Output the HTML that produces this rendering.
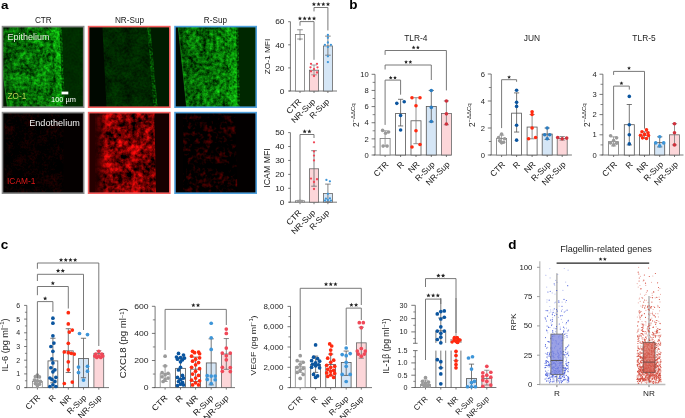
<!DOCTYPE html>
<html><head><meta charset="utf-8"><style>
html,body{margin:0;padding:0;background:#fff;width:685px;height:418px;overflow:hidden}
svg{display:block;font-family:"Liberation Sans", sans-serif}
</style></head><body>
<svg width="685" height="418" viewBox="0 0 685 418" font-family='"Liberation Sans", sans-serif'>
<rect width="685" height="418" fill="#fff"/>
<defs>
<filter id="g1" x="0" y="0" width="1" height="1" color-interpolation-filters="sRGB"><feTurbulence type="fractalNoise" baseFrequency="0.3" numOctaves="3" seed="3" result="t1"/><feColorMatrix in="t1" type="matrix" values="1 0 0 0 0  1 0 0 0 0  1 0 0 0 0  0 0 0 0 1" result="a"/><feTurbulence type="fractalNoise" baseFrequency="0.08" numOctaves="2" seed="53" result="t2"/><feColorMatrix in="t2" type="matrix" values="1 0 0 0 0  1 0 0 0 0  1 0 0 0 0  0 0 0 0 1" result="b"/><feComposite in="a" in2="b" operator="arithmetic" k1="0" k2="0.6" k3="0.4" k4="0" result="c"/><feColorMatrix in="c" type="matrix" values="0.186 0 0 0 -0.066  1.55 0 0 0 -0.3  0.186 0 0 0 -0.066  0 0 0 0 1"/></filter>
<filter id="g1d" x="0" y="0" width="1" height="1" color-interpolation-filters="sRGB"><feTurbulence type="fractalNoise" baseFrequency="0.5" numOctaves="2" seed="5" result="t1"/><feColorMatrix in="t1" type="matrix" values="1 0 0 0 0  1 0 0 0 0  1 0 0 0 0  0 0 0 0 1" result="a"/><feTurbulence type="fractalNoise" baseFrequency="0.1" numOctaves="2" seed="55" result="t2"/><feColorMatrix in="t2" type="matrix" values="1 0 0 0 0  1 0 0 0 0  1 0 0 0 0  0 0 0 0 1" result="b"/><feComposite in="a" in2="b" operator="arithmetic" k1="0" k2="0.5" k3="0.5" k4="0" result="c"/><feColorMatrix in="c" type="matrix" values="0.0192 0 0 0 -0.019200000000000002  0.16 0 0 0 0.09  0.0192 0 0 0 -0.019200000000000002  0 0 0 0 1"/></filter>
<filter id="g2" x="0" y="0" width="1" height="1" color-interpolation-filters="sRGB"><feTurbulence type="fractalNoise" baseFrequency="0.4" numOctaves="2" seed="7" result="t1"/><feColorMatrix in="t1" type="matrix" values="1 0 0 0 0  1 0 0 0 0  1 0 0 0 0  0 0 0 0 1" result="a"/><feTurbulence type="fractalNoise" baseFrequency="0.09" numOctaves="2" seed="57" result="t2"/><feColorMatrix in="t2" type="matrix" values="1 0 0 0 0  1 0 0 0 0  1 0 0 0 0  0 0 0 0 1" result="b"/><feComposite in="a" in2="b" operator="arithmetic" k1="0" k2="0.5" k3="0.5" k4="0" result="c"/><feColorMatrix in="c" type="matrix" values="0.043199999999999995 0 0 0 -0.033  0.36 0 0 0 -0.025  0.043199999999999995 0 0 0 -0.033  0 0 0 0 1"/></filter>
<filter id="g3" x="0" y="0" width="1" height="1" color-interpolation-filters="sRGB"><feTurbulence type="fractalNoise" baseFrequency="0.3" numOctaves="3" seed="11" result="t1"/><feColorMatrix in="t1" type="matrix" values="1 0 0 0 0  1 0 0 0 0  1 0 0 0 0  0 0 0 0 1" result="a"/><feTurbulence type="fractalNoise" baseFrequency="0.08" numOctaves="2" seed="61" result="t2"/><feColorMatrix in="t2" type="matrix" values="1 0 0 0 0  1 0 0 0 0  1 0 0 0 0  0 0 0 0 1" result="b"/><feComposite in="a" in2="b" operator="arithmetic" k1="0" k2="0.6" k3="0.4" k4="0" result="c"/><feColorMatrix in="c" type="matrix" values="0.186 0 0 0 -0.06839999999999999  1.55 0 0 0 -0.32  0.186 0 0 0 -0.06839999999999999  0 0 0 0 1"/></filter>
<filter id="gf" x="0" y="0" width="1" height="1" color-interpolation-filters="sRGB"><feTurbulence type="fractalNoise" baseFrequency="0.35" numOctaves="3" seed="23" result="t1"/><feColorMatrix in="t1" type="matrix" values="1 0 0 0 0  1 0 0 0 0  1 0 0 0 0  0 0 0 0 1" result="a"/><feTurbulence type="fractalNoise" baseFrequency="0.15" numOctaves="2" seed="73" result="t2"/><feColorMatrix in="t2" type="matrix" values="1 0 0 0 0  1 0 0 0 0  1 0 0 0 0  0 0 0 0 1" result="b"/><feComposite in="a" in2="b" operator="arithmetic" k1="0" k2="0.6" k3="0.4" k4="0" result="c"/><feColorMatrix in="c" type="matrix" values="0.22799999999999998 0 0 0 -0.072  1.9 0 0 0 -0.35  0.22799999999999998 0 0 0 -0.072  0 0 0 0 1"/></filter>
<filter id="gs" x="0" y="0" width="1" height="1" color-interpolation-filters="sRGB"><feTurbulence type="fractalNoise" baseFrequency="0.5" numOctaves="2" seed="29" result="t1"/><feColorMatrix in="t1" type="matrix" values="1 0 0 0 0  1 0 0 0 0  1 0 0 0 0  0 0 0 0 1" result="a"/><feTurbulence type="fractalNoise" baseFrequency="0.2" numOctaves="2" seed="79" result="t2"/><feColorMatrix in="t2" type="matrix" values="1 0 0 0 0  1 0 0 0 0  1 0 0 0 0  0 0 0 0 1" result="b"/><feComposite in="a" in2="b" operator="arithmetic" k1="0" k2="0.7" k3="0.3" k4="0" result="c"/><feColorMatrix in="c" type="matrix" values="0.384 0 0 0 -0.18  3.2 0 0 0 -1.25  0.384 0 0 0 -0.18  0 0 0 0 1"/></filter>
<filter id="r2" x="0" y="0" width="1" height="1" color-interpolation-filters="sRGB"><feTurbulence type="fractalNoise" baseFrequency="0.22" numOctaves="3" seed="13" result="t1"/><feColorMatrix in="t1" type="matrix" values="1 0 0 0 0  1 0 0 0 0  1 0 0 0 0  0 0 0 0 1" result="a"/><feTurbulence type="fractalNoise" baseFrequency="0.07" numOctaves="2" seed="63" result="t2"/><feColorMatrix in="t2" type="matrix" values="1 0 0 0 0  1 0 0 0 0  1 0 0 0 0  0 0 0 0 1" result="b"/><feComposite in="a" in2="b" operator="arithmetic" k1="0" k2="0.6" k3="0.4" k4="0" result="c"/><feColorMatrix in="c" type="matrix" values="2.3 0 0 0 -0.7  0.13799999999999998 0 0 0 -0.062  0.13799999999999998 0 0 0 -0.062  0 0 0 0 1"/></filter>
<filter id="r3" x="0" y="0" width="1" height="1" color-interpolation-filters="sRGB"><feTurbulence type="fractalNoise" baseFrequency="0.25" numOctaves="3" seed="17" result="t1"/><feColorMatrix in="t1" type="matrix" values="1 0 0 0 0  1 0 0 0 0  1 0 0 0 0  0 0 0 0 1" result="a"/><feTurbulence type="fractalNoise" baseFrequency="0.08" numOctaves="2" seed="67" result="t2"/><feColorMatrix in="t2" type="matrix" values="1 0 0 0 0  1 0 0 0 0  1 0 0 0 0  0 0 0 0 1" result="b"/><feComposite in="a" in2="b" operator="arithmetic" k1="0" k2="0.6" k3="0.4" k4="0" result="c"/><feColorMatrix in="c" type="matrix" values="1.25 0 0 0 -0.61  0.075 0 0 0 -0.0566  0.075 0 0 0 -0.0566  0 0 0 0 1"/></filter>
<filter id="r1" x="0" y="0" width="1" height="1" color-interpolation-filters="sRGB"><feTurbulence type="fractalNoise" baseFrequency="0.45" numOctaves="2" seed="19" result="t1"/><feColorMatrix in="t1" type="matrix" values="1 0 0 0 0  1 0 0 0 0  1 0 0 0 0  0 0 0 0 1" result="a"/><feTurbulence type="fractalNoise" baseFrequency="0.08" numOctaves="2" seed="69" result="t2"/><feColorMatrix in="t2" type="matrix" values="1 0 0 0 0  1 0 0 0 0  1 0 0 0 0  0 0 0 0 1" result="b"/><feComposite in="a" in2="b" operator="arithmetic" k1="0" k2="0.5" k3="0.5" k4="0" result="c"/><feColorMatrix in="c" type="matrix" values="0.7 0 0 0 -0.33  0.041999999999999996 0 0 0 -0.0398  0.041999999999999996 0 0 0 -0.0398  0 0 0 0 1"/></filter>
<linearGradient id="shadeL" x1="0" y1="0" x2="1" y2="0"><stop offset="0" stop-color="#000" stop-opacity="0.22"/><stop offset="0.6" stop-color="#000" stop-opacity="0.06"/><stop offset="1" stop-color="#000" stop-opacity="0"/></linearGradient>
<linearGradient id="redL" x1="0" y1="0" x2="1" y2="0"><stop offset="0" stop-color="#260000" stop-opacity="1"/><stop offset="1" stop-color="#260000" stop-opacity="0"/></linearGradient>
</defs>
<rect x="2.50" y="26.60" width="81.20" height="80.60" fill="#001a00" stroke="none" stroke-width="0.8"/>
<clipPath id="c16"><polygon points="57.7,26.6 83.7,26.6 83.7,107.2 62.6,107.2"/></clipPath>
<rect x="57.7" y="26.6" width="26.0" height="80.6" filter="url(#g1d)" clip-path="url(#c16)" opacity="1.0"/>
<clipPath id="c18"><polygon points="2.5,26.6 59.3,26.6 61.0,66.9 62.6,107.2 7.5,107.2 2.5,70.9"/></clipPath>
<rect x="2.5" y="26.6" width="60.1" height="80.6" filter="url(#g1)" clip-path="url(#c18)" opacity="1.0"/>
<clipPath id="c20"><polygon points="54.5,26.6 59.3,26.6 61.0,66.9 62.6,107.2 57.7,107.2 56.1,66.9"/></clipPath>
<rect x="54.5" y="26.6" width="8.1" height="80.6" filter="url(#gf)" clip-path="url(#c20)" opacity="0.5"/>
<clipPath id="c22"><polygon points="52.8,26.6 61.8,26.6 63.4,66.9 65.0,107.2 56.1,107.2 54.5,66.9"/></clipPath>
<rect x="52.8" y="26.6" width="12.2" height="80.6" filter="url(#gs)" clip-path="url(#c22)" opacity="0.45" style="mix-blend-mode:screen"/>
<polygon points="2.5,26.6 59.3,26.6 61.0,66.9 62.6,107.2 7.5,107.2 2.5,70.9" fill="url(#shadeL)" />
<line x1="2.8" y1="70.9" x2="7.5" y2="107.2" stroke="#20a020" stroke-width="1.0" opacity="0.6"/>
<rect x="88.60" y="26.60" width="81.20" height="80.60" fill="#000800" stroke="none" stroke-width="0.8"/>
<polygon points="149.5,26.6 169.8,26.6 169.8,107.2 156.8,107.2" fill="#001c00" />
<clipPath id="c28"><polygon points="102.4,26.6 150.3,26.6 157.6,107.2 106.5,107.2"/></clipPath>
<rect x="102.4" y="26.6" width="55.2" height="80.6" filter="url(#g2)" clip-path="url(#c28)" opacity="1.0"/>
<clipPath id="c30"><polygon points="147.1,26.6 150.3,26.6 157.6,107.2 153.6,107.2"/></clipPath>
<rect x="147.1" y="26.6" width="10.6" height="80.6" filter="url(#gs)" clip-path="url(#c30)" opacity="0.4" style="mix-blend-mode:screen"/>
<rect x="175.00" y="26.60" width="81.20" height="80.60" fill="#000a00" stroke="none" stroke-width="0.8"/>
<polygon points="235.1,26.6 256.2,26.6 256.2,107.2 237.5,107.2" fill="#002700" />
<clipPath id="c34"><polygon points="178.0,26.6 235.9,26.6 237.5,107.2 186.4,107.2"/></clipPath>
<rect x="178.0" y="26.6" width="59.5" height="80.6" filter="url(#g3)" clip-path="url(#c34)" opacity="1.0"/>
<clipPath id="c36"><polygon points="230.2,26.6 235.9,26.6 237.5,107.2 231.8,107.2"/></clipPath>
<rect x="230.2" y="26.6" width="7.3" height="80.6" filter="url(#gf)" clip-path="url(#c36)" opacity="0.5"/>
<clipPath id="c38"><polygon points="227.0,26.6 238.3,26.6 240.0,107.2 228.6,107.2"/></clipPath>
<rect x="227.0" y="26.6" width="13.0" height="80.6" filter="url(#gs)" clip-path="url(#c38)" opacity="0.45" style="mix-blend-mode:screen"/>
<polygon points="178.0,26.6 235.9,26.6 237.5,107.2 186.4,107.2" fill="url(#shadeL)" />
<line x1="178.2" y1="26.6" x2="186.6" y2="107.2" stroke="#20a020" stroke-width="1.0" opacity="0.35"/>
<rect x="2.50" y="112.60" width="81.20" height="80.60" fill="#040000" stroke="none" stroke-width="0.8"/>
<clipPath id="c43"><polygon points="4.5,112.6 63.4,112.6 63.4,193.2 4.5,193.2"/></clipPath>
<rect x="4.5" y="112.6" width="58.9" height="80.6" filter="url(#r1)" clip-path="url(#c43)" opacity="0.8"/>
<rect x="88.60" y="112.60" width="81.20" height="80.60" fill="#260000" stroke="none" stroke-width="0.8"/>
<polygon points="151.9,112.6 169.8,112.6 169.8,193.2 153.6,193.2" fill="#160000" />
<clipPath id="c47"><polygon points="95.1,112.6 154.4,112.6 156.0,193.2 95.1,193.2"/></clipPath>
<rect x="95.1" y="112.6" width="60.9" height="80.6" filter="url(#r2)" clip-path="url(#c47)" opacity="1.0"/>
<rect x="95.10" y="112.60" width="11.37" height="80.60" fill="url(#redL)" stroke="none" stroke-width="0.8"/>
<rect x="175.00" y="112.60" width="81.20" height="80.60" fill="#030000" stroke="none" stroke-width="0.8"/>
<clipPath id="c51"><polygon points="183.1,112.6 235.1,112.6 237.5,193.2 183.1,193.2"/></clipPath>
<rect x="183.1" y="112.6" width="54.4" height="80.6" filter="url(#r3)" clip-path="url(#c51)" opacity="1.0"/>
<rect x="2.50" y="26.60" width="81.2" height="80.6" fill="none" stroke="#8a8a8a" stroke-width="1.6"/>
<rect x="2.50" y="112.60" width="81.2" height="80.6" fill="none" stroke="#8a8a8a" stroke-width="1.6"/>
<rect x="88.60" y="26.60" width="81.2" height="80.6" fill="none" stroke="#f45e5e" stroke-width="1.6"/>
<rect x="88.60" y="112.60" width="81.2" height="80.6" fill="none" stroke="#f45e5e" stroke-width="1.6"/>
<rect x="175.00" y="26.60" width="81.2" height="80.6" fill="none" stroke="#4fa0dc" stroke-width="1.6"/>
<rect x="175.00" y="112.60" width="81.2" height="80.6" fill="none" stroke="#4fa0dc" stroke-width="1.6"/>
<text transform="translate(43.30,22.80)" font-size="8.2" text-anchor="middle" fill="#222" font-weight="normal" >CTR</text>
<text transform="translate(129.50,22.80)" font-size="8.2" text-anchor="middle" fill="#222" font-weight="normal" >NR-Sup</text>
<text transform="translate(215.40,22.80)" font-size="8.2" text-anchor="middle" fill="#222" font-weight="normal" >R-Sup</text>
<text transform="translate(7.60,40.00)" font-size="9.0" text-anchor="start" fill="#e8f0e0" font-weight="normal" >Epithelium</text>
<text transform="translate(7.60,99.40)" font-size="8.2" text-anchor="start" fill="#b4d450" font-weight="normal" >ZO-1</text>
<rect x="61.50" y="91.60" width="6.80" height="2.80" fill="#ffffff" stroke="none" stroke-width="0.8"/>
<text transform="translate(63.50,102.00)" font-size="7.4" text-anchor="middle" fill="#ffffff" font-weight="normal" >100 µm</text>
<text transform="translate(79.80,125.60)" font-size="9.1" text-anchor="end" fill="#f0f0f0" font-weight="normal" >Endothelium</text>
<text transform="translate(7.00,184.40) scale(1.0,1.05)" font-size="8.4" text-anchor="start" fill="#e01818" font-weight="normal" >ICAM-1</text>
<line x1="290.40" y1="21.70" x2="290.40" y2="91.00" stroke="#555" stroke-width="0.8"/>
<line x1="288.90" y1="91.00" x2="337.00" y2="91.00" stroke="#555" stroke-width="0.8"/>
<line x1="288.20" y1="91.00" x2="290.40" y2="91.00" stroke="#555" stroke-width="0.8"/>
<text transform="translate(284.50,93.79) scale(1.0,0.95)" font-size="8.4" text-anchor="end" fill="#1e1e1e" font-weight="normal" >0</text>
<line x1="288.20" y1="67.90" x2="290.40" y2="67.90" stroke="#555" stroke-width="0.8"/>
<text transform="translate(284.50,70.69) scale(1.0,0.95)" font-size="8.4" text-anchor="end" fill="#1e1e1e" font-weight="normal" >20</text>
<line x1="288.20" y1="44.80" x2="290.40" y2="44.80" stroke="#555" stroke-width="0.8"/>
<text transform="translate(284.50,47.59) scale(1.0,0.95)" font-size="8.4" text-anchor="end" fill="#1e1e1e" font-weight="normal" >40</text>
<line x1="288.20" y1="21.70" x2="290.40" y2="21.70" stroke="#555" stroke-width="0.8"/>
<text transform="translate(284.50,24.49) scale(1.0,0.95)" font-size="8.4" text-anchor="end" fill="#1e1e1e" font-weight="normal" >60</text>
<line x1="300.00" y1="91.00" x2="300.00" y2="93.00" stroke="#555" stroke-width="0.8"/>
<line x1="314.00" y1="91.00" x2="314.00" y2="93.00" stroke="#555" stroke-width="0.8"/>
<line x1="327.90" y1="91.00" x2="327.90" y2="93.00" stroke="#555" stroke-width="0.8"/>
<rect x="295.50" y="34.41" width="9.00" height="56.59" fill="#ffffff" stroke="#777" stroke-width="0.8"/>
<rect x="309.40" y="70.21" width="9.20" height="20.79" fill="#fcd6d9" stroke="#666" stroke-width="0.8"/>
<rect x="323.40" y="45.95" width="9.00" height="45.05" fill="#d5e6f6" stroke="#666" stroke-width="0.8"/>
<circle cx="300.00" cy="39.60" r="1.0" fill="#aaa"/>
<line x1="300.00" y1="29.78" x2="300.00" y2="39.02" stroke="#777" stroke-width="0.8"/>
<line x1="297.20" y1="29.78" x2="302.80" y2="29.78" stroke="#777" stroke-width="0.8"/>
<line x1="297.20" y1="39.02" x2="302.80" y2="39.02" stroke="#777" stroke-width="0.8"/>
<line x1="314.00" y1="65.01" x2="314.00" y2="74.83" stroke="#888" stroke-width="0.8"/>
<line x1="311.20" y1="65.01" x2="316.80" y2="65.01" stroke="#888" stroke-width="0.8"/>
<line x1="311.20" y1="74.83" x2="316.80" y2="74.83" stroke="#888" stroke-width="0.8"/>
<circle cx="311.00" cy="63.86" r="1.15" fill="#f04858"/>
<circle cx="317.00" cy="63.86" r="1.15" fill="#f04858"/>
<circle cx="310.50" cy="67.32" r="1.15" fill="#f04858"/>
<circle cx="317.50" cy="67.32" r="1.15" fill="#f04858"/>
<circle cx="314.00" cy="69.06" r="1.15" fill="#f04858"/>
<circle cx="311.00" cy="71.36" r="1.15" fill="#f04858"/>
<circle cx="317.00" cy="72.52" r="1.15" fill="#f04858"/>
<circle cx="314.00" cy="75.98" r="1.15" fill="#f04858"/>
<line x1="327.90" y1="36.14" x2="327.90" y2="55.20" stroke="#666" stroke-width="0.8"/>
<line x1="325.10" y1="36.14" x2="330.70" y2="36.14" stroke="#666" stroke-width="0.8"/>
<line x1="325.10" y1="55.20" x2="330.70" y2="55.20" stroke="#666" stroke-width="0.8"/>
<circle cx="327.90" cy="34.98" r="1.15" fill="#3d95d8"/>
<circle cx="327.90" cy="37.87" r="1.15" fill="#3d95d8"/>
<circle cx="327.90" cy="42.49" r="1.15" fill="#3d95d8"/>
<circle cx="324.90" cy="44.80" r="1.15" fill="#3d95d8"/>
<circle cx="330.90" cy="44.80" r="1.15" fill="#3d95d8"/>
<circle cx="327.90" cy="47.11" r="1.15" fill="#3d95d8"/>
<circle cx="327.90" cy="56.35" r="1.15" fill="#3d95d8"/>
<circle cx="327.90" cy="62.12" r="1.15" fill="#3d95d8"/>
<path d="M300.00,25.70 L300.00,21.60 L314.00,21.60 L314.00,59.80" fill="none" stroke="#6a6a6a" stroke-width="0.9"/>
<polygon points="299.95,16.20 300.55,17.63 302.09,17.75 300.91,18.76 301.27,20.27 299.95,19.46 298.63,20.27 298.99,18.76 297.81,17.75 299.35,17.63" fill="#222"/>
<polygon points="304.65,16.20 305.25,17.63 306.79,17.75 305.61,18.76 305.97,20.27 304.65,19.46 303.33,20.27 303.69,18.76 302.51,17.75 304.05,17.63" fill="#222"/>
<polygon points="309.35,16.20 309.95,17.63 311.49,17.75 310.31,18.76 310.67,20.27 309.35,19.46 308.03,20.27 308.39,18.76 307.21,17.75 308.75,17.63" fill="#222"/>
<polygon points="314.05,16.20 314.65,17.63 316.19,17.75 315.01,18.76 315.37,20.27 314.05,19.46 312.73,20.27 313.09,18.76 311.91,17.75 313.45,17.63" fill="#222"/>
<path d="M314.00,11.40 L314.00,7.50 L327.90,7.50 L327.90,30.40" fill="none" stroke="#6a6a6a" stroke-width="0.9"/>
<polygon points="313.90,2.00 314.50,3.43 316.04,3.55 314.86,4.56 315.22,6.07 313.90,5.26 312.58,6.07 312.94,4.56 311.76,3.55 313.30,3.43" fill="#222"/>
<polygon points="318.60,2.00 319.20,3.43 320.74,3.55 319.56,4.56 319.92,6.07 318.60,5.26 317.28,6.07 317.64,4.56 316.46,3.55 318.00,3.43" fill="#222"/>
<polygon points="323.30,2.00 323.90,3.43 325.44,3.55 324.26,4.56 324.62,6.07 323.30,5.26 321.98,6.07 322.34,4.56 321.16,3.55 322.70,3.43" fill="#222"/>
<polygon points="328.00,2.00 328.60,3.43 330.14,3.55 328.96,4.56 329.32,6.07 328.00,5.26 326.68,6.07 327.04,4.56 325.86,3.55 327.40,3.43" fill="#222"/>
<text transform="translate(269.70,56.50) rotate(-90) scale(1.0,0.95)" font-size="8.3" text-anchor="middle" fill="#222" font-weight="normal" >ZO-1 MFI</text>
<text transform="translate(302.00,102.00) rotate(-45) scale(1.0,0.95)" font-size="8.6" text-anchor="end" fill="#111" font-weight="normal" >CTR</text>
<text transform="translate(316.00,102.00) rotate(-45) scale(1.0,0.95)" font-size="8.6" text-anchor="end" fill="#111" font-weight="normal" >NR-Sup</text>
<text transform="translate(329.90,102.00) rotate(-45) scale(1.0,0.95)" font-size="8.6" text-anchor="end" fill="#111" font-weight="normal" >R-Sup</text>
<line x1="290.40" y1="132.60" x2="290.40" y2="202.20" stroke="#555" stroke-width="0.8"/>
<line x1="288.90" y1="202.20" x2="337.00" y2="202.20" stroke="#555" stroke-width="0.8"/>
<line x1="288.20" y1="202.20" x2="290.40" y2="202.20" stroke="#555" stroke-width="0.8"/>
<text transform="translate(284.50,204.99) scale(1.0,0.95)" font-size="8.4" text-anchor="end" fill="#1e1e1e" font-weight="normal" >0</text>
<line x1="288.20" y1="188.28" x2="290.40" y2="188.28" stroke="#555" stroke-width="0.8"/>
<text transform="translate(284.50,191.07) scale(1.0,0.95)" font-size="8.4" text-anchor="end" fill="#1e1e1e" font-weight="normal" >10</text>
<line x1="288.20" y1="174.36" x2="290.40" y2="174.36" stroke="#555" stroke-width="0.8"/>
<text transform="translate(284.50,177.15) scale(1.0,0.95)" font-size="8.4" text-anchor="end" fill="#1e1e1e" font-weight="normal" >20</text>
<line x1="288.20" y1="160.44" x2="290.40" y2="160.44" stroke="#555" stroke-width="0.8"/>
<text transform="translate(284.50,163.23) scale(1.0,0.95)" font-size="8.4" text-anchor="end" fill="#1e1e1e" font-weight="normal" >30</text>
<line x1="288.20" y1="146.52" x2="290.40" y2="146.52" stroke="#555" stroke-width="0.8"/>
<text transform="translate(284.50,149.31) scale(1.0,0.95)" font-size="8.4" text-anchor="end" fill="#1e1e1e" font-weight="normal" >40</text>
<line x1="288.20" y1="132.60" x2="290.40" y2="132.60" stroke="#555" stroke-width="0.8"/>
<text transform="translate(284.50,135.39) scale(1.0,0.95)" font-size="8.4" text-anchor="end" fill="#1e1e1e" font-weight="normal" >50</text>
<line x1="300.00" y1="202.20" x2="300.00" y2="204.20" stroke="#555" stroke-width="0.8"/>
<line x1="314.00" y1="202.20" x2="314.00" y2="204.20" stroke="#555" stroke-width="0.8"/>
<line x1="327.90" y1="202.20" x2="327.90" y2="204.20" stroke="#555" stroke-width="0.8"/>
<rect x="295.50" y="200.81" width="9.00" height="1.39" fill="#ffffff" stroke="#777" stroke-width="0.8"/>
<circle cx="298.00" cy="201.09" r="1.3" fill="#9a9a9a"/>
<circle cx="300.00" cy="200.53" r="1.3" fill="#9a9a9a"/>
<circle cx="302.00" cy="200.95" r="1.3" fill="#9a9a9a"/>
<circle cx="299.00" cy="201.36" r="1.3" fill="#9a9a9a"/>
<circle cx="301.00" cy="201.50" r="1.3" fill="#9a9a9a"/>
<rect x="309.40" y="168.79" width="9.20" height="33.41" fill="#fcd6d9" stroke="#666" stroke-width="0.8"/>
<line x1="314.00" y1="150.70" x2="314.00" y2="186.19" stroke="#666" stroke-width="0.8"/>
<line x1="311.20" y1="150.70" x2="316.80" y2="150.70" stroke="#666" stroke-width="0.8"/>
<line x1="311.20" y1="186.19" x2="316.80" y2="186.19" stroke="#666" stroke-width="0.8"/>
<circle cx="314.00" cy="142.34" r="1.15" fill="#f04858"/>
<circle cx="314.00" cy="151.39" r="1.15" fill="#f04858"/>
<circle cx="314.00" cy="155.57" r="1.15" fill="#f04858"/>
<circle cx="314.00" cy="160.44" r="1.15" fill="#f04858"/>
<circle cx="314.00" cy="182.02" r="1.15" fill="#f04858"/>
<circle cx="311.00" cy="178.54" r="1.15" fill="#f04858"/>
<circle cx="317.00" cy="179.23" r="1.15" fill="#f04858"/>
<circle cx="314.00" cy="188.98" r="1.15" fill="#f04858"/>
<rect x="323.40" y="193.57" width="9.00" height="8.63" fill="#d5e6f6" stroke="#666" stroke-width="0.8"/>
<line x1="327.90" y1="184.10" x2="327.90" y2="201.78" stroke="#666" stroke-width="0.8"/>
<line x1="325.10" y1="184.10" x2="330.70" y2="184.10" stroke="#666" stroke-width="0.8"/>
<line x1="325.10" y1="201.78" x2="330.70" y2="201.78" stroke="#666" stroke-width="0.8"/>
<circle cx="326.40" cy="179.93" r="1.15" fill="#3d95d8"/>
<circle cx="329.90" cy="181.32" r="1.15" fill="#3d95d8"/>
<circle cx="327.90" cy="193.85" r="1.15" fill="#3d95d8"/>
<circle cx="324.90" cy="200.53" r="1.15" fill="#3d95d8"/>
<circle cx="327.90" cy="200.11" r="1.15" fill="#3d95d8"/>
<circle cx="330.90" cy="200.53" r="1.15" fill="#3d95d8"/>
<circle cx="325.90" cy="198.72" r="1.15" fill="#3d95d8"/>
<circle cx="329.90" cy="198.30" r="1.15" fill="#3d95d8"/>
<path d="M300.00,199.50 L300.00,134.50 L314.00,134.50 L314.00,138.00" fill="none" stroke="#6a6a6a" stroke-width="0.9"/>
<polygon points="304.65,129.30 305.25,130.73 306.79,130.85 305.61,131.86 305.97,133.37 304.65,132.56 303.33,133.37 303.69,131.86 302.51,130.85 304.05,130.73" fill="#222"/>
<polygon points="309.35,129.30 309.95,130.73 311.49,130.85 310.31,131.86 310.67,133.37 309.35,132.56 308.03,133.37 308.39,131.86 307.21,130.85 308.75,130.73" fill="#222"/>
<text transform="translate(270.10,168.00) rotate(-90) scale(1.0,0.95)" font-size="8.8" text-anchor="middle" fill="#222" font-weight="normal" >ICAM MFI</text>
<text transform="translate(302.00,213.20) rotate(-45) scale(1.0,0.95)" font-size="8.6" text-anchor="end" fill="#111" font-weight="normal" >CTR</text>
<text transform="translate(316.00,213.20) rotate(-45) scale(1.0,0.95)" font-size="8.6" text-anchor="end" fill="#111" font-weight="normal" >NR-Sup</text>
<text transform="translate(329.90,213.20) rotate(-45) scale(1.0,0.95)" font-size="8.6" text-anchor="end" fill="#111" font-weight="normal" >R-Sup</text>
<line x1="375.00" y1="74.30" x2="375.00" y2="155.00" stroke="#555" stroke-width="0.8"/>
<line x1="373.50" y1="155.00" x2="451.50" y2="155.00" stroke="#555" stroke-width="0.8"/>
<line x1="371.60" y1="155.00" x2="375.00" y2="155.00" stroke="#555" stroke-width="0.8"/>
<text transform="translate(368.80,157.66)" font-size="7.6" text-anchor="end" fill="#1e1e1e" font-weight="normal" >0</text>
<line x1="371.60" y1="138.86" x2="375.00" y2="138.86" stroke="#555" stroke-width="0.8"/>
<text transform="translate(368.80,141.52)" font-size="7.6" text-anchor="end" fill="#1e1e1e" font-weight="normal" >2</text>
<line x1="371.60" y1="122.72" x2="375.00" y2="122.72" stroke="#555" stroke-width="0.8"/>
<text transform="translate(368.80,125.38)" font-size="7.6" text-anchor="end" fill="#1e1e1e" font-weight="normal" >4</text>
<line x1="371.60" y1="106.58" x2="375.00" y2="106.58" stroke="#555" stroke-width="0.8"/>
<text transform="translate(368.80,109.24)" font-size="7.6" text-anchor="end" fill="#1e1e1e" font-weight="normal" >6</text>
<line x1="371.60" y1="90.44" x2="375.00" y2="90.44" stroke="#555" stroke-width="0.8"/>
<text transform="translate(368.80,93.10)" font-size="7.6" text-anchor="end" fill="#1e1e1e" font-weight="normal" >8</text>
<line x1="371.60" y1="74.30" x2="375.00" y2="74.30" stroke="#555" stroke-width="0.8"/>
<text transform="translate(368.80,76.96)" font-size="7.6" text-anchor="end" fill="#1e1e1e" font-weight="normal" >10</text>
<line x1="372.62" y1="146.93" x2="375.00" y2="146.93" stroke="#555" stroke-width="0.7"/>
<line x1="372.62" y1="130.79" x2="375.00" y2="130.79" stroke="#555" stroke-width="0.7"/>
<line x1="372.62" y1="114.65" x2="375.00" y2="114.65" stroke="#555" stroke-width="0.7"/>
<line x1="372.62" y1="98.51" x2="375.00" y2="98.51" stroke="#555" stroke-width="0.7"/>
<line x1="372.62" y1="82.37" x2="375.00" y2="82.37" stroke="#555" stroke-width="0.7"/>
<line x1="385.10" y1="155.00" x2="385.10" y2="157.00" stroke="#555" stroke-width="0.8"/>
<line x1="400.60" y1="155.00" x2="400.60" y2="157.00" stroke="#555" stroke-width="0.8"/>
<line x1="416.00" y1="155.00" x2="416.00" y2="157.00" stroke="#555" stroke-width="0.8"/>
<line x1="431.30" y1="155.00" x2="431.30" y2="157.00" stroke="#555" stroke-width="0.8"/>
<line x1="446.40" y1="155.00" x2="446.40" y2="157.00" stroke="#555" stroke-width="0.8"/>
<rect x="380.10" y="138.46" width="10.00" height="16.54" fill="#ffffff" stroke="#777" stroke-width="0.8"/>
<line x1="385.10" y1="130.79" x2="385.10" y2="146.12" stroke="#888" stroke-width="0.8"/>
<line x1="382.50" y1="130.79" x2="387.70" y2="130.79" stroke="#888" stroke-width="0.8"/>
<line x1="382.50" y1="146.12" x2="387.70" y2="146.12" stroke="#888" stroke-width="0.8"/>
<circle cx="382.60" cy="130.39" r="1.8" fill="#9a9a9a"/>
<circle cx="388.60" cy="132.00" r="1.8" fill="#9a9a9a"/>
<circle cx="385.60" cy="133.21" r="1.8" fill="#9a9a9a"/>
<circle cx="383.10" cy="146.12" r="1.8" fill="#9a9a9a"/>
<circle cx="387.10" cy="146.12" r="1.8" fill="#9a9a9a"/>
<rect x="395.60" y="113.52" width="10.00" height="41.48" fill="#ffffff" stroke="#555" stroke-width="0.8"/>
<line x1="400.60" y1="99.32" x2="400.60" y2="125.95" stroke="#555" stroke-width="0.8"/>
<line x1="398.00" y1="99.32" x2="403.20" y2="99.32" stroke="#555" stroke-width="0.8"/>
<line x1="398.00" y1="125.95" x2="403.20" y2="125.95" stroke="#555" stroke-width="0.8"/>
<circle cx="396.80" cy="103.35" r="1.8" fill="#0b559f"/>
<circle cx="404.20" cy="101.74" r="1.8" fill="#0b559f"/>
<circle cx="400.60" cy="115.46" r="1.8" fill="#0b559f"/>
<circle cx="400.60" cy="129.98" r="1.8" fill="#0b559f"/>
<rect x="411.00" y="120.78" width="10.00" height="34.22" fill="#ffffff" stroke="#555" stroke-width="0.8"/>
<line x1="416.00" y1="97.70" x2="416.00" y2="143.70" stroke="#777" stroke-width="0.8"/>
<line x1="413.40" y1="97.70" x2="418.60" y2="97.70" stroke="#777" stroke-width="0.8"/>
<line x1="413.40" y1="143.70" x2="418.60" y2="143.70" stroke="#777" stroke-width="0.8"/>
<circle cx="412.00" cy="97.70" r="1.8" fill="#ff2a10"/>
<circle cx="420.00" cy="97.70" r="1.8" fill="#ff2a10"/>
<circle cx="416.00" cy="105.77" r="1.8" fill="#ff2a10"/>
<circle cx="416.00" cy="130.79" r="1.8" fill="#ff2a10"/>
<circle cx="412.00" cy="146.93" r="1.8" fill="#ff2a10"/>
<circle cx="420.00" cy="144.51" r="1.8" fill="#ff2a10"/>
<rect x="426.30" y="106.58" width="10.00" height="48.42" fill="#d5e6f6" stroke="#555" stroke-width="0.8"/>
<line x1="431.30" y1="90.44" x2="431.30" y2="121.91" stroke="#555" stroke-width="0.8"/>
<line x1="428.70" y1="90.44" x2="433.90" y2="90.44" stroke="#555" stroke-width="0.8"/>
<line x1="428.70" y1="121.91" x2="433.90" y2="121.91" stroke="#555" stroke-width="0.8"/>
<circle cx="431.30" cy="90.44" r="1.8" fill="#2a7cc0"/>
<circle cx="431.30" cy="107.39" r="1.8" fill="#2a7cc0"/>
<circle cx="431.30" cy="121.51" r="1.8" fill="#2a7cc0"/>
<rect x="441.40" y="113.52" width="10.00" height="41.48" fill="#fcd6d9" stroke="#666" stroke-width="0.8"/>
<line x1="446.40" y1="100.93" x2="446.40" y2="124.74" stroke="#777" stroke-width="0.8"/>
<line x1="443.80" y1="100.93" x2="449.00" y2="100.93" stroke="#777" stroke-width="0.8"/>
<line x1="443.80" y1="124.74" x2="449.00" y2="124.74" stroke="#777" stroke-width="0.8"/>
<circle cx="446.40" cy="100.93" r="1.8" fill="#d0303c"/>
<circle cx="446.40" cy="113.84" r="1.8" fill="#d0303c"/>
<circle cx="446.40" cy="123.93" r="1.8" fill="#d0303c"/>
<path d="M385.10,124.90 L385.10,80.10 L400.60,80.10 L400.60,94.70" fill="none" stroke="#6a6a6a" stroke-width="0.9"/>
<polygon points="390.70,75.75 391.23,77.02 392.60,77.13 391.56,78.03 391.88,79.37 390.70,78.65 389.52,79.37 389.84,78.03 388.80,77.13 390.17,77.02" fill="#222"/>
<polygon points="395.00,75.75 395.53,77.02 396.90,77.13 395.86,78.03 396.18,79.37 395.00,78.65 393.82,79.37 394.14,78.03 393.10,77.13 394.47,77.02" fill="#222"/>
<path d="M385.10,69.50 L385.10,65.00 L431.30,65.00 L431.30,80.00" fill="none" stroke="#6a6a6a" stroke-width="0.9"/>
<polygon points="406.05,60.05 406.58,61.32 407.95,61.43 406.91,62.33 407.23,63.67 406.05,62.95 404.87,63.67 405.19,62.33 404.15,61.43 405.52,61.32" fill="#222"/>
<polygon points="410.35,60.05 410.88,61.32 412.25,61.43 411.21,62.33 411.53,63.67 410.35,62.95 409.17,63.67 409.49,62.33 408.45,61.43 409.82,61.32" fill="#222"/>
<path d="M385.10,54.90 L385.10,50.50 L446.40,50.50 L446.40,90.40" fill="none" stroke="#6a6a6a" stroke-width="0.9"/>
<polygon points="413.60,45.55 414.13,46.82 415.50,46.93 414.46,47.83 414.78,49.17 413.60,48.45 412.42,49.17 412.74,47.83 411.70,46.93 413.07,46.82" fill="#222"/>
<polygon points="417.90,45.55 418.43,46.82 419.80,46.93 418.76,47.83 419.08,49.17 417.90,48.45 416.72,49.17 417.04,47.83 416.00,46.93 417.37,46.82" fill="#222"/>
<text transform="translate(415.80,40.60)" font-size="8.4" text-anchor="middle" fill="#222" font-weight="normal" >TLR-4</text>
<text transform="translate(389.10,165.00) rotate(-45)" font-size="8.4" text-anchor="end" fill="#111" font-weight="normal" >CTR</text>
<text transform="translate(404.60,165.00) rotate(-45)" font-size="8.4" text-anchor="end" fill="#111" font-weight="normal" >R</text>
<text transform="translate(420.00,165.00) rotate(-45)" font-size="8.4" text-anchor="end" fill="#111" font-weight="normal" >NR</text>
<text transform="translate(435.30,165.00) rotate(-45)" font-size="8.4" text-anchor="end" fill="#111" font-weight="normal" >R-Sup</text>
<text transform="translate(450.40,165.00) rotate(-45)" font-size="8.4" text-anchor="end" fill="#111" font-weight="normal" >NR-Sup</text>
<line x1="491.20" y1="74.00" x2="491.20" y2="155.00" stroke="#555" stroke-width="0.8"/>
<line x1="489.70" y1="155.00" x2="571.90" y2="155.00" stroke="#555" stroke-width="0.8"/>
<line x1="487.80" y1="155.00" x2="491.20" y2="155.00" stroke="#555" stroke-width="0.8"/>
<text transform="translate(485.00,157.66)" font-size="7.6" text-anchor="end" fill="#1e1e1e" font-weight="normal" >0</text>
<line x1="487.80" y1="128.00" x2="491.20" y2="128.00" stroke="#555" stroke-width="0.8"/>
<text transform="translate(485.00,130.66)" font-size="7.6" text-anchor="end" fill="#1e1e1e" font-weight="normal" >2</text>
<line x1="487.80" y1="101.00" x2="491.20" y2="101.00" stroke="#555" stroke-width="0.8"/>
<text transform="translate(485.00,103.66)" font-size="7.6" text-anchor="end" fill="#1e1e1e" font-weight="normal" >4</text>
<line x1="487.80" y1="74.00" x2="491.20" y2="74.00" stroke="#555" stroke-width="0.8"/>
<text transform="translate(485.00,76.66)" font-size="7.6" text-anchor="end" fill="#1e1e1e" font-weight="normal" >6</text>
<line x1="488.82" y1="141.50" x2="491.20" y2="141.50" stroke="#555" stroke-width="0.7"/>
<line x1="488.82" y1="114.50" x2="491.20" y2="114.50" stroke="#555" stroke-width="0.7"/>
<line x1="488.82" y1="87.50" x2="491.20" y2="87.50" stroke="#555" stroke-width="0.7"/>
<line x1="501.60" y1="155.00" x2="501.60" y2="157.00" stroke="#555" stroke-width="0.8"/>
<line x1="516.60" y1="155.00" x2="516.60" y2="157.00" stroke="#555" stroke-width="0.8"/>
<line x1="532.10" y1="155.00" x2="532.10" y2="157.00" stroke="#555" stroke-width="0.8"/>
<line x1="547.20" y1="155.00" x2="547.20" y2="157.00" stroke="#555" stroke-width="0.8"/>
<line x1="562.20" y1="155.00" x2="562.20" y2="157.00" stroke="#555" stroke-width="0.8"/>
<rect x="496.60" y="138.40" width="10.00" height="16.60" fill="#ffffff" stroke="#777" stroke-width="0.8"/>
<line x1="501.60" y1="135.16" x2="501.60" y2="142.18" stroke="#888" stroke-width="0.8"/>
<line x1="499.00" y1="135.16" x2="504.20" y2="135.16" stroke="#888" stroke-width="0.8"/>
<line x1="499.00" y1="142.18" x2="504.20" y2="142.18" stroke="#888" stroke-width="0.8"/>
<circle cx="501.60" cy="134.07" r="1.8" fill="#9a9a9a"/>
<circle cx="498.60" cy="137.45" r="1.8" fill="#9a9a9a"/>
<circle cx="504.60" cy="138.80" r="1.8" fill="#9a9a9a"/>
<circle cx="499.60" cy="140.82" r="1.8" fill="#9a9a9a"/>
<circle cx="503.60" cy="142.18" r="1.8" fill="#9a9a9a"/>
<circle cx="501.60" cy="142.85" r="1.8" fill="#9a9a9a"/>
<rect x="511.60" y="113.15" width="10.00" height="41.85" fill="#ffffff" stroke="#555" stroke-width="0.8"/>
<line x1="516.60" y1="92.90" x2="516.60" y2="132.05" stroke="#555" stroke-width="0.8"/>
<line x1="514.00" y1="92.90" x2="519.20" y2="92.90" stroke="#555" stroke-width="0.8"/>
<line x1="514.00" y1="132.05" x2="519.20" y2="132.05" stroke="#555" stroke-width="0.8"/>
<circle cx="516.60" cy="90.20" r="1.8" fill="#0b559f"/>
<circle cx="516.60" cy="102.35" r="1.8" fill="#0b559f"/>
<circle cx="516.60" cy="106.40" r="1.8" fill="#0b559f"/>
<circle cx="516.60" cy="125.30" r="1.8" fill="#0b559f"/>
<circle cx="516.60" cy="140.15" r="1.8" fill="#0b559f"/>
<rect x="527.10" y="127.06" width="10.00" height="27.94" fill="#ffffff" stroke="#555" stroke-width="0.8"/>
<line x1="532.10" y1="114.50" x2="532.10" y2="138.80" stroke="#777" stroke-width="0.8"/>
<line x1="529.50" y1="114.50" x2="534.70" y2="114.50" stroke="#777" stroke-width="0.8"/>
<line x1="529.50" y1="138.80" x2="534.70" y2="138.80" stroke="#777" stroke-width="0.8"/>
<circle cx="532.10" cy="111.80" r="1.8" fill="#ff2a10"/>
<circle cx="532.10" cy="114.50" r="1.8" fill="#ff2a10"/>
<circle cx="532.10" cy="128.00" r="1.8" fill="#ff2a10"/>
<circle cx="528.60" cy="138.80" r="1.8" fill="#ff2a10"/>
<circle cx="535.60" cy="137.45" r="1.8" fill="#ff2a10"/>
<rect x="542.20" y="134.07" width="10.00" height="20.93" fill="#d5e6f6" stroke="#555" stroke-width="0.8"/>
<line x1="547.20" y1="128.00" x2="547.20" y2="139.47" stroke="#555" stroke-width="0.8"/>
<line x1="544.60" y1="128.00" x2="549.80" y2="128.00" stroke="#555" stroke-width="0.8"/>
<line x1="544.60" y1="139.47" x2="549.80" y2="139.47" stroke="#555" stroke-width="0.8"/>
<circle cx="547.20" cy="128.00" r="1.8" fill="#2a7cc0"/>
<circle cx="544.70" cy="134.75" r="1.8" fill="#2a7cc0"/>
<circle cx="549.70" cy="134.75" r="1.8" fill="#2a7cc0"/>
<circle cx="547.20" cy="138.80" r="1.8" fill="#2a7cc0"/>
<rect x="557.20" y="138.40" width="10.00" height="16.60" fill="#fcd6d9" stroke="#666" stroke-width="0.8"/>
<line x1="562.20" y1="136.50" x2="562.20" y2="140.15" stroke="#777" stroke-width="0.8"/>
<line x1="559.60" y1="136.50" x2="564.80" y2="136.50" stroke="#777" stroke-width="0.8"/>
<line x1="559.60" y1="140.15" x2="564.80" y2="140.15" stroke="#777" stroke-width="0.8"/>
<circle cx="557.70" cy="137.45" r="1.8" fill="#d0303c"/>
<circle cx="562.20" cy="138.80" r="1.8" fill="#d0303c"/>
<circle cx="566.70" cy="138.12" r="1.8" fill="#d0303c"/>
<path d="M501.60,128.10 L501.60,79.70 L516.60,79.70 L516.60,81.80" fill="none" stroke="#6a6a6a" stroke-width="0.9"/>
<polygon points="509.10,75.15 509.63,76.42 511.00,76.53 509.96,77.43 510.28,78.77 509.10,78.05 507.92,78.77 508.24,77.43 507.20,76.53 508.57,76.42" fill="#222"/>
<text transform="translate(532.00,40.60)" font-size="8.4" text-anchor="middle" fill="#222" font-weight="normal" >JUN</text>
<text transform="translate(505.60,165.00) rotate(-45)" font-size="8.4" text-anchor="end" fill="#111" font-weight="normal" >CTR</text>
<text transform="translate(520.60,165.00) rotate(-45)" font-size="8.4" text-anchor="end" fill="#111" font-weight="normal" >R</text>
<text transform="translate(536.10,165.00) rotate(-45)" font-size="8.4" text-anchor="end" fill="#111" font-weight="normal" >NR</text>
<text transform="translate(551.20,165.00) rotate(-45)" font-size="8.4" text-anchor="end" fill="#111" font-weight="normal" >R-Sup</text>
<text transform="translate(566.20,165.00) rotate(-45)" font-size="8.4" text-anchor="end" fill="#111" font-weight="normal" >NR-Sup</text>
<line x1="602.90" y1="74.20" x2="602.90" y2="155.00" stroke="#555" stroke-width="0.8"/>
<line x1="601.40" y1="155.00" x2="683.50" y2="155.00" stroke="#555" stroke-width="0.8"/>
<line x1="599.50" y1="155.00" x2="602.90" y2="155.00" stroke="#555" stroke-width="0.8"/>
<text transform="translate(596.70,157.66)" font-size="7.6" text-anchor="end" fill="#1e1e1e" font-weight="normal" >0</text>
<line x1="599.50" y1="134.80" x2="602.90" y2="134.80" stroke="#555" stroke-width="0.8"/>
<text transform="translate(596.70,137.46)" font-size="7.6" text-anchor="end" fill="#1e1e1e" font-weight="normal" >1</text>
<line x1="599.50" y1="114.60" x2="602.90" y2="114.60" stroke="#555" stroke-width="0.8"/>
<text transform="translate(596.70,117.26)" font-size="7.6" text-anchor="end" fill="#1e1e1e" font-weight="normal" >2</text>
<line x1="599.50" y1="94.40" x2="602.90" y2="94.40" stroke="#555" stroke-width="0.8"/>
<text transform="translate(596.70,97.06)" font-size="7.6" text-anchor="end" fill="#1e1e1e" font-weight="normal" >3</text>
<line x1="599.50" y1="74.20" x2="602.90" y2="74.20" stroke="#555" stroke-width="0.8"/>
<text transform="translate(596.70,76.86)" font-size="7.6" text-anchor="end" fill="#1e1e1e" font-weight="normal" >4</text>
<line x1="600.52" y1="144.90" x2="602.90" y2="144.90" stroke="#555" stroke-width="0.7"/>
<line x1="600.52" y1="124.70" x2="602.90" y2="124.70" stroke="#555" stroke-width="0.7"/>
<line x1="600.52" y1="104.50" x2="602.90" y2="104.50" stroke="#555" stroke-width="0.7"/>
<line x1="600.52" y1="84.30" x2="602.90" y2="84.30" stroke="#555" stroke-width="0.7"/>
<line x1="613.60" y1="155.00" x2="613.60" y2="157.00" stroke="#555" stroke-width="0.8"/>
<line x1="629.30" y1="155.00" x2="629.30" y2="157.00" stroke="#555" stroke-width="0.8"/>
<line x1="644.50" y1="155.00" x2="644.50" y2="157.00" stroke="#555" stroke-width="0.8"/>
<line x1="659.70" y1="155.00" x2="659.70" y2="157.00" stroke="#555" stroke-width="0.8"/>
<line x1="674.50" y1="155.00" x2="674.50" y2="157.00" stroke="#555" stroke-width="0.8"/>
<rect x="608.60" y="141.67" width="10.00" height="13.33" fill="#ffffff" stroke="#777" stroke-width="0.8"/>
<line x1="613.60" y1="136.82" x2="613.60" y2="145.91" stroke="#888" stroke-width="0.8"/>
<line x1="611.00" y1="136.82" x2="616.20" y2="136.82" stroke="#888" stroke-width="0.8"/>
<line x1="611.00" y1="145.91" x2="616.20" y2="145.91" stroke="#888" stroke-width="0.8"/>
<circle cx="610.60" cy="135.81" r="1.8" fill="#9a9a9a"/>
<circle cx="616.60" cy="137.83" r="1.8" fill="#9a9a9a"/>
<circle cx="613.60" cy="140.46" r="1.8" fill="#9a9a9a"/>
<circle cx="610.60" cy="142.88" r="1.8" fill="#9a9a9a"/>
<circle cx="616.60" cy="143.28" r="1.8" fill="#9a9a9a"/>
<circle cx="613.60" cy="144.90" r="1.8" fill="#9a9a9a"/>
<rect x="624.30" y="124.70" width="10.00" height="30.30" fill="#ffffff" stroke="#555" stroke-width="0.8"/>
<line x1="629.30" y1="104.50" x2="629.30" y2="144.90" stroke="#555" stroke-width="0.8"/>
<line x1="626.70" y1="104.50" x2="631.90" y2="104.50" stroke="#555" stroke-width="0.8"/>
<line x1="626.70" y1="144.90" x2="631.90" y2="144.90" stroke="#555" stroke-width="0.8"/>
<circle cx="629.30" cy="96.42" r="1.8" fill="#0b559f"/>
<circle cx="629.30" cy="124.70" r="1.8" fill="#0b559f"/>
<circle cx="629.30" cy="134.80" r="1.8" fill="#0b559f"/>
<circle cx="629.30" cy="143.89" r="1.8" fill="#0b559f"/>
<rect x="639.50" y="135.20" width="10.00" height="19.80" fill="#ffffff" stroke="#555" stroke-width="0.8"/>
<line x1="644.50" y1="131.77" x2="644.50" y2="138.44" stroke="#777" stroke-width="0.8"/>
<line x1="641.90" y1="131.77" x2="647.10" y2="131.77" stroke="#777" stroke-width="0.8"/>
<line x1="641.90" y1="138.44" x2="647.10" y2="138.44" stroke="#777" stroke-width="0.8"/>
<circle cx="646.50" cy="129.75" r="1.8" fill="#ff2a10"/>
<circle cx="642.00" cy="131.77" r="1.8" fill="#ff2a10"/>
<circle cx="648.00" cy="132.78" r="1.8" fill="#ff2a10"/>
<circle cx="644.50" cy="134.40" r="1.8" fill="#ff2a10"/>
<circle cx="640.50" cy="135.20" r="1.8" fill="#ff2a10"/>
<circle cx="648.50" cy="135.61" r="1.8" fill="#ff2a10"/>
<circle cx="642.50" cy="137.83" r="1.8" fill="#ff2a10"/>
<circle cx="646.50" cy="138.44" r="1.8" fill="#ff2a10"/>
<rect x="654.70" y="142.68" width="10.00" height="12.32" fill="#d5e6f6" stroke="#555" stroke-width="0.8"/>
<line x1="659.70" y1="136.82" x2="659.70" y2="146.92" stroke="#555" stroke-width="0.8"/>
<line x1="657.10" y1="136.82" x2="662.30" y2="136.82" stroke="#555" stroke-width="0.8"/>
<line x1="657.10" y1="146.92" x2="662.30" y2="146.92" stroke="#555" stroke-width="0.8"/>
<circle cx="659.70" cy="136.82" r="1.8" fill="#3d95d8"/>
<circle cx="655.70" cy="142.88" r="1.8" fill="#3d95d8"/>
<circle cx="663.70" cy="142.88" r="1.8" fill="#3d95d8"/>
<circle cx="659.70" cy="145.91" r="1.8" fill="#3d95d8"/>
<rect x="669.50" y="134.80" width="10.00" height="20.20" fill="#fcd6d9" stroke="#666" stroke-width="0.8"/>
<line x1="674.50" y1="123.69" x2="674.50" y2="144.90" stroke="#777" stroke-width="0.8"/>
<line x1="671.90" y1="123.69" x2="677.10" y2="123.69" stroke="#777" stroke-width="0.8"/>
<line x1="671.90" y1="144.90" x2="677.10" y2="144.90" stroke="#777" stroke-width="0.8"/>
<circle cx="674.50" cy="123.69" r="1.8" fill="#d0303c"/>
<circle cx="674.50" cy="132.78" r="1.8" fill="#d0303c"/>
<circle cx="674.50" cy="144.90" r="1.8" fill="#d0303c"/>
<path d="M613.60,129.90 L613.60,86.10 L629.30,86.10 L629.30,89.60" fill="none" stroke="#6a6a6a" stroke-width="0.9"/>
<polygon points="621.45,81.35 621.98,82.62 623.35,82.73 622.31,83.63 622.63,84.97 621.45,84.25 620.27,84.97 620.59,83.63 619.55,82.73 620.92,82.62" fill="#222"/>
<path d="M613.60,74.90 L613.60,71.40 L644.50,71.40 L644.50,128.70" fill="none" stroke="#6a6a6a" stroke-width="0.9"/>
<polygon points="629.05,66.15 629.58,67.42 630.95,67.53 629.91,68.43 630.23,69.77 629.05,69.05 627.87,69.77 628.19,68.43 627.15,67.53 628.52,67.42" fill="#222"/>
<text transform="translate(644.00,40.60)" font-size="8.4" text-anchor="middle" fill="#222" font-weight="normal" >TLR-5</text>
<text transform="translate(617.60,165.00) rotate(-45)" font-size="8.4" text-anchor="end" fill="#111" font-weight="normal" >CTR</text>
<text transform="translate(633.30,165.00) rotate(-45)" font-size="8.4" text-anchor="end" fill="#111" font-weight="normal" >R</text>
<text transform="translate(648.50,165.00) rotate(-45)" font-size="8.4" text-anchor="end" fill="#111" font-weight="normal" >NR</text>
<text transform="translate(663.70,165.00) rotate(-45)" font-size="8.4" text-anchor="end" fill="#111" font-weight="normal" >R-Sup</text>
<text transform="translate(678.50,165.00) rotate(-45)" font-size="8.4" text-anchor="end" fill="#111" font-weight="normal" >NR-Sup</text>
<text transform="translate(358.70,115.20) rotate(-90)" font-size="8.3" text-anchor="middle" fill="#222" font-weight="normal" >2<tspan font-size="6.0" dy="-3.8">−ΔΔCq</tspan></text>
<text transform="translate(475.00,115.20) rotate(-90)" font-size="8.3" text-anchor="middle" fill="#222" font-weight="normal" >2<tspan font-size="6.0" dy="-3.8">−ΔΔCq</tspan></text>
<text transform="translate(589.80,115.20) rotate(-90)" font-size="8.3" text-anchor="middle" fill="#222" font-weight="normal" >2<tspan font-size="6.0" dy="-3.8">−ΔΔCq</tspan></text>
<line x1="26.80" y1="305.40" x2="26.80" y2="387.60" stroke="#555" stroke-width="0.8"/>
<line x1="25.30" y1="387.60" x2="109.00" y2="387.60" stroke="#555" stroke-width="0.8"/>
<line x1="24.10" y1="387.60" x2="26.80" y2="387.60" stroke="#555" stroke-width="0.8"/>
<text transform="translate(20.20,390.05)" font-size="7.0" text-anchor="end" fill="#1e1e1e" font-weight="normal" >0</text>
<line x1="24.10" y1="373.90" x2="26.80" y2="373.90" stroke="#555" stroke-width="0.8"/>
<text transform="translate(20.20,376.35)" font-size="7.0" text-anchor="end" fill="#1e1e1e" font-weight="normal" >1</text>
<line x1="24.10" y1="360.20" x2="26.80" y2="360.20" stroke="#555" stroke-width="0.8"/>
<text transform="translate(20.20,362.65)" font-size="7.0" text-anchor="end" fill="#1e1e1e" font-weight="normal" >2</text>
<line x1="24.10" y1="346.50" x2="26.80" y2="346.50" stroke="#555" stroke-width="0.8"/>
<text transform="translate(20.20,348.95)" font-size="7.0" text-anchor="end" fill="#1e1e1e" font-weight="normal" >3</text>
<line x1="24.10" y1="332.80" x2="26.80" y2="332.80" stroke="#555" stroke-width="0.8"/>
<text transform="translate(20.20,335.25)" font-size="7.0" text-anchor="end" fill="#1e1e1e" font-weight="normal" >4</text>
<line x1="24.10" y1="319.10" x2="26.80" y2="319.10" stroke="#555" stroke-width="0.8"/>
<text transform="translate(20.20,321.55)" font-size="7.0" text-anchor="end" fill="#1e1e1e" font-weight="normal" >5</text>
<line x1="24.10" y1="305.40" x2="26.80" y2="305.40" stroke="#555" stroke-width="0.8"/>
<text transform="translate(20.20,307.85)" font-size="7.0" text-anchor="end" fill="#1e1e1e" font-weight="normal" >6</text>
<line x1="24.91" y1="380.75" x2="26.80" y2="380.75" stroke="#555" stroke-width="0.7"/>
<line x1="24.91" y1="367.05" x2="26.80" y2="367.05" stroke="#555" stroke-width="0.7"/>
<line x1="24.91" y1="353.35" x2="26.80" y2="353.35" stroke="#555" stroke-width="0.7"/>
<line x1="24.91" y1="339.65" x2="26.80" y2="339.65" stroke="#555" stroke-width="0.7"/>
<line x1="24.91" y1="325.95" x2="26.80" y2="325.95" stroke="#555" stroke-width="0.7"/>
<line x1="24.91" y1="312.25" x2="26.80" y2="312.25" stroke="#555" stroke-width="0.7"/>
<line x1="37.40" y1="387.60" x2="37.40" y2="389.60" stroke="#555" stroke-width="0.8"/>
<line x1="52.90" y1="387.60" x2="52.90" y2="389.60" stroke="#555" stroke-width="0.8"/>
<line x1="68.30" y1="387.60" x2="68.30" y2="389.60" stroke="#555" stroke-width="0.8"/>
<line x1="83.50" y1="387.60" x2="83.50" y2="389.60" stroke="#555" stroke-width="0.8"/>
<line x1="98.80" y1="387.60" x2="98.80" y2="389.60" stroke="#555" stroke-width="0.8"/>
<rect x="32.50" y="381.44" width="9.80" height="6.17" fill="#ffffff" stroke="#888" stroke-width="0.8"/>
<line x1="37.40" y1="377.33" x2="37.40" y2="384.86" stroke="#888" stroke-width="0.8"/>
<line x1="34.80" y1="377.33" x2="40.00" y2="377.33" stroke="#888" stroke-width="0.8"/>
<line x1="34.80" y1="384.86" x2="40.00" y2="384.86" stroke="#888" stroke-width="0.8"/>
<circle cx="37.40" cy="375.00" r="1.85" fill="#9a9a9a"/>
<circle cx="35.40" cy="376.64" r="1.85" fill="#9a9a9a"/>
<circle cx="39.40" cy="376.91" r="1.85" fill="#9a9a9a"/>
<circle cx="34.40" cy="380.06" r="1.85" fill="#9a9a9a"/>
<circle cx="37.40" cy="380.75" r="1.85" fill="#9a9a9a"/>
<circle cx="40.40" cy="381.44" r="1.85" fill="#9a9a9a"/>
<circle cx="35.40" cy="383.49" r="1.85" fill="#9a9a9a"/>
<circle cx="39.40" cy="384.18" r="1.85" fill="#9a9a9a"/>
<circle cx="37.40" cy="385.55" r="1.85" fill="#9a9a9a"/>
<rect x="48.00" y="360.89" width="9.80" height="26.71" fill="#ffffff" stroke="#555" stroke-width="0.8"/>
<line x1="52.90" y1="338.28" x2="52.90" y2="382.81" stroke="#555" stroke-width="0.8"/>
<line x1="50.30" y1="338.28" x2="55.50" y2="338.28" stroke="#555" stroke-width="0.8"/>
<line x1="50.30" y1="382.81" x2="55.50" y2="382.81" stroke="#555" stroke-width="0.8"/>
<circle cx="52.90" cy="318.14" r="1.85" fill="#0b559f"/>
<circle cx="52.90" cy="323.21" r="1.85" fill="#0b559f"/>
<circle cx="52.90" cy="335.81" r="1.85" fill="#0b559f"/>
<circle cx="53.90" cy="343.08" r="1.85" fill="#0b559f"/>
<circle cx="50.90" cy="346.50" r="1.85" fill="#0b559f"/>
<circle cx="52.90" cy="351.30" r="1.85" fill="#0b559f"/>
<circle cx="51.90" cy="358.83" r="1.85" fill="#0b559f"/>
<circle cx="52.90" cy="362.94" r="1.85" fill="#0b559f"/>
<circle cx="50.90" cy="367.74" r="1.85" fill="#0b559f"/>
<circle cx="54.90" cy="369.79" r="1.85" fill="#0b559f"/>
<circle cx="52.90" cy="371.85" r="1.85" fill="#0b559f"/>
<circle cx="49.90" cy="378.01" r="1.85" fill="#0b559f"/>
<circle cx="55.90" cy="377.33" r="1.85" fill="#0b559f"/>
<circle cx="51.90" cy="379.38" r="1.85" fill="#0b559f"/>
<circle cx="54.90" cy="381.44" r="1.85" fill="#0b559f"/>
<circle cx="52.90" cy="384.86" r="1.85" fill="#0b559f"/>
<circle cx="49.90" cy="386.50" r="1.85" fill="#0b559f"/>
<circle cx="55.90" cy="386.50" r="1.85" fill="#0b559f"/>
<rect x="63.40" y="350.88" width="9.80" height="36.72" fill="#ffffff" stroke="#555" stroke-width="0.8"/>
<line x1="68.30" y1="328.69" x2="68.30" y2="372.53" stroke="#555" stroke-width="0.8"/>
<line x1="65.70" y1="328.69" x2="70.90" y2="328.69" stroke="#555" stroke-width="0.8"/>
<line x1="65.70" y1="372.53" x2="70.90" y2="372.53" stroke="#555" stroke-width="0.8"/>
<circle cx="68.30" cy="312.66" r="1.85" fill="#ff2a10"/>
<circle cx="68.30" cy="323.90" r="1.85" fill="#ff2a10"/>
<circle cx="72.30" cy="330.06" r="1.85" fill="#ff2a10"/>
<circle cx="69.30" cy="332.12" r="1.85" fill="#ff2a10"/>
<circle cx="68.30" cy="343.35" r="1.85" fill="#ff2a10"/>
<circle cx="64.30" cy="351.98" r="1.85" fill="#ff2a10"/>
<circle cx="68.30" cy="352.67" r="1.85" fill="#ff2a10"/>
<circle cx="71.30" cy="353.35" r="1.85" fill="#ff2a10"/>
<circle cx="74.30" cy="354.04" r="1.85" fill="#ff2a10"/>
<circle cx="68.30" cy="361.84" r="1.85" fill="#ff2a10"/>
<circle cx="68.30" cy="369.79" r="1.85" fill="#ff2a10"/>
<circle cx="64.30" cy="383.49" r="1.85" fill="#ff2a10"/>
<circle cx="72.30" cy="382.12" r="1.85" fill="#ff2a10"/>
<rect x="78.60" y="358.56" width="9.80" height="29.04" fill="#d5e6f6" stroke="#555" stroke-width="0.8"/>
<line x1="83.50" y1="338.28" x2="83.50" y2="377.74" stroke="#555" stroke-width="0.8"/>
<line x1="80.90" y1="338.28" x2="86.10" y2="338.28" stroke="#555" stroke-width="0.8"/>
<line x1="80.90" y1="377.74" x2="86.10" y2="377.74" stroke="#555" stroke-width="0.8"/>
<circle cx="79.50" cy="333.49" r="1.85" fill="#3d95d8"/>
<circle cx="87.50" cy="334.58" r="1.85" fill="#3d95d8"/>
<circle cx="78.50" cy="367.05" r="1.85" fill="#3d95d8"/>
<circle cx="87.50" cy="366.37" r="1.85" fill="#3d95d8"/>
<circle cx="87.50" cy="371.16" r="1.85" fill="#3d95d8"/>
<circle cx="78.50" cy="372.53" r="1.85" fill="#3d95d8"/>
<circle cx="83.50" cy="380.06" r="1.85" fill="#3d95d8"/>
<rect x="93.90" y="353.35" width="9.80" height="34.25" fill="#fcd6d9" stroke="#666" stroke-width="0.8"/>
<line x1="98.80" y1="350.61" x2="98.80" y2="357.46" stroke="#777" stroke-width="0.8"/>
<line x1="96.20" y1="350.61" x2="101.40" y2="350.61" stroke="#777" stroke-width="0.8"/>
<line x1="96.20" y1="357.46" x2="101.40" y2="357.46" stroke="#777" stroke-width="0.8"/>
<circle cx="98.80" cy="351.30" r="1.85" fill="#f04858"/>
<circle cx="95.80" cy="354.04" r="1.85" fill="#f04858"/>
<circle cx="101.80" cy="354.04" r="1.85" fill="#f04858"/>
<circle cx="94.80" cy="356.09" r="1.85" fill="#f04858"/>
<circle cx="98.80" cy="356.09" r="1.85" fill="#f04858"/>
<circle cx="102.80" cy="356.09" r="1.85" fill="#f04858"/>
<circle cx="96.80" cy="357.46" r="1.85" fill="#f04858"/>
<circle cx="100.80" cy="357.46" r="1.85" fill="#f04858"/>
<path d="M37.40,378.00 L37.40,301.60 L52.90,301.60 L52.90,312.00" fill="none" stroke="#6a6a6a" stroke-width="0.9"/>
<polygon points="45.15,296.20 45.75,297.63 47.29,297.75 46.11,298.76 46.47,300.27 45.15,299.46 43.83,300.27 44.19,298.76 43.01,297.75 44.55,297.63" fill="#222"/>
<path d="M37.40,295.20 L37.40,286.50 L68.30,286.50 L68.30,308.50" fill="none" stroke="#6a6a6a" stroke-width="0.9"/>
<polygon points="52.85,281.00 53.45,282.43 54.99,282.55 53.81,283.56 54.17,285.07 52.85,284.26 51.53,285.07 51.89,283.56 50.71,282.55 52.25,282.43" fill="#222"/>
<path d="M37.40,281.00 L37.40,274.30 L83.50,274.30 L83.50,330.00" fill="none" stroke="#6a6a6a" stroke-width="0.9"/>
<polygon points="58.10,268.60 58.70,270.03 60.24,270.15 59.06,271.16 59.42,272.67 58.10,271.86 56.78,272.67 57.14,271.16 55.96,270.15 57.50,270.03" fill="#222"/>
<polygon points="62.80,268.60 63.40,270.03 64.94,270.15 63.76,271.16 64.12,272.67 62.80,271.86 61.48,272.67 61.84,271.16 60.66,270.15 62.20,270.03" fill="#222"/>
<path d="M37.40,268.80 L37.40,263.00 L98.80,263.00 L98.80,346.00" fill="none" stroke="#6a6a6a" stroke-width="0.9"/>
<polygon points="61.05,257.70 61.65,259.13 63.19,259.25 62.01,260.26 62.37,261.77 61.05,260.96 59.73,261.77 60.09,260.26 58.91,259.25 60.45,259.13" fill="#222"/>
<polygon points="65.75,257.70 66.35,259.13 67.89,259.25 66.71,260.26 67.07,261.77 65.75,260.96 64.43,261.77 64.79,260.26 63.61,259.25 65.15,259.13" fill="#222"/>
<polygon points="70.45,257.70 71.05,259.13 72.59,259.25 71.41,260.26 71.77,261.77 70.45,260.96 69.13,261.77 69.49,260.26 68.31,259.25 69.85,259.13" fill="#222"/>
<polygon points="75.15,257.70 75.75,259.13 77.29,259.25 76.11,260.26 76.47,261.77 75.15,260.96 73.83,261.77 74.19,260.26 73.01,259.25 74.55,259.13" fill="#222"/>
<text transform="translate(7.60,345.00) rotate(-90)" font-size="9.1" text-anchor="middle" fill="#222" font-weight="normal" >IL-6 (pg ml<tspan font-size="5.8" dy="-3.2">−1</tspan><tspan dy="3.2">)</tspan></text>
<text transform="translate(40.80,398.20) rotate(-45)" font-size="8.3" text-anchor="end" fill="#111" font-weight="normal" >CTR</text>
<text transform="translate(56.30,398.20) rotate(-45)" font-size="8.3" text-anchor="end" fill="#111" font-weight="normal" >R</text>
<text transform="translate(71.70,398.20) rotate(-45)" font-size="8.3" text-anchor="end" fill="#111" font-weight="normal" >NR</text>
<text transform="translate(86.90,398.20) rotate(-45)" font-size="8.3" text-anchor="end" fill="#111" font-weight="normal" >R-Sup</text>
<text transform="translate(102.20,398.20) rotate(-45)" font-size="8.3" text-anchor="end" fill="#111" font-weight="normal" >NR-Sup</text>
<line x1="155.10" y1="306.30" x2="155.10" y2="387.60" stroke="#555" stroke-width="0.8"/>
<line x1="153.60" y1="387.60" x2="235.00" y2="387.60" stroke="#555" stroke-width="0.8"/>
<line x1="151.90" y1="387.60" x2="155.10" y2="387.60" stroke="#555" stroke-width="0.8"/>
<text transform="translate(148.50,390.31) scale(1.0,0.9)" font-size="8.6" text-anchor="end" fill="#1e1e1e" font-weight="normal" >0</text>
<line x1="151.90" y1="360.50" x2="155.10" y2="360.50" stroke="#555" stroke-width="0.8"/>
<text transform="translate(148.50,363.21) scale(1.0,0.9)" font-size="8.6" text-anchor="end" fill="#1e1e1e" font-weight="normal" >200</text>
<line x1="151.90" y1="333.40" x2="155.10" y2="333.40" stroke="#555" stroke-width="0.8"/>
<text transform="translate(148.50,336.11) scale(1.0,0.9)" font-size="8.6" text-anchor="end" fill="#1e1e1e" font-weight="normal" >400</text>
<line x1="151.90" y1="306.30" x2="155.10" y2="306.30" stroke="#555" stroke-width="0.8"/>
<text transform="translate(148.50,309.01) scale(1.0,0.9)" font-size="8.6" text-anchor="end" fill="#1e1e1e" font-weight="normal" >600</text>
<line x1="152.86" y1="374.05" x2="155.10" y2="374.05" stroke="#555" stroke-width="0.7"/>
<line x1="152.86" y1="346.95" x2="155.10" y2="346.95" stroke="#555" stroke-width="0.7"/>
<line x1="152.86" y1="319.85" x2="155.10" y2="319.85" stroke="#555" stroke-width="0.7"/>
<line x1="165.10" y1="387.60" x2="165.10" y2="389.60" stroke="#555" stroke-width="0.8"/>
<line x1="180.50" y1="387.60" x2="180.50" y2="389.60" stroke="#555" stroke-width="0.8"/>
<line x1="195.60" y1="387.60" x2="195.60" y2="389.60" stroke="#555" stroke-width="0.8"/>
<line x1="211.20" y1="387.60" x2="211.20" y2="389.60" stroke="#555" stroke-width="0.8"/>
<line x1="226.30" y1="387.60" x2="226.30" y2="389.60" stroke="#555" stroke-width="0.8"/>
<rect x="160.20" y="373.78" width="9.80" height="13.82" fill="#ffffff" stroke="#888" stroke-width="0.8"/>
<line x1="165.10" y1="365.92" x2="165.10" y2="381.50" stroke="#888" stroke-width="0.8"/>
<line x1="162.50" y1="365.92" x2="167.70" y2="365.92" stroke="#888" stroke-width="0.8"/>
<line x1="162.50" y1="381.50" x2="167.70" y2="381.50" stroke="#888" stroke-width="0.8"/>
<circle cx="165.10" cy="356.16" r="1.85" fill="#9a9a9a"/>
<circle cx="165.10" cy="365.92" r="1.85" fill="#9a9a9a"/>
<circle cx="162.10" cy="372.70" r="1.85" fill="#9a9a9a"/>
<circle cx="168.10" cy="373.37" r="1.85" fill="#9a9a9a"/>
<circle cx="165.10" cy="374.73" r="1.85" fill="#9a9a9a"/>
<circle cx="162.10" cy="376.76" r="1.85" fill="#9a9a9a"/>
<circle cx="168.10" cy="378.12" r="1.85" fill="#9a9a9a"/>
<circle cx="165.10" cy="379.47" r="1.85" fill="#9a9a9a"/>
<circle cx="163.10" cy="381.50" r="1.85" fill="#9a9a9a"/>
<rect x="175.60" y="368.36" width="9.80" height="19.24" fill="#ffffff" stroke="#555" stroke-width="0.8"/>
<line x1="180.50" y1="357.79" x2="180.50" y2="379.47" stroke="#555" stroke-width="0.8"/>
<line x1="177.90" y1="357.79" x2="183.10" y2="357.79" stroke="#555" stroke-width="0.8"/>
<line x1="177.90" y1="379.47" x2="183.10" y2="379.47" stroke="#555" stroke-width="0.8"/>
<circle cx="178.50" cy="353.45" r="1.85" fill="#0b559f"/>
<circle cx="183.50" cy="355.08" r="1.85" fill="#0b559f"/>
<circle cx="176.50" cy="357.11" r="1.85" fill="#0b559f"/>
<circle cx="180.50" cy="357.52" r="1.85" fill="#0b559f"/>
<circle cx="184.50" cy="358.06" r="1.85" fill="#0b559f"/>
<circle cx="177.50" cy="359.15" r="1.85" fill="#0b559f"/>
<circle cx="182.50" cy="359.82" r="1.85" fill="#0b559f"/>
<circle cx="180.50" cy="361.86" r="1.85" fill="#0b559f"/>
<circle cx="180.50" cy="367.28" r="1.85" fill="#0b559f"/>
<circle cx="178.50" cy="369.99" r="1.85" fill="#0b559f"/>
<circle cx="182.50" cy="375.41" r="1.85" fill="#0b559f"/>
<circle cx="177.50" cy="377.44" r="1.85" fill="#0b559f"/>
<circle cx="183.50" cy="378.12" r="1.85" fill="#0b559f"/>
<circle cx="180.50" cy="379.47" r="1.85" fill="#0b559f"/>
<circle cx="178.50" cy="381.50" r="1.85" fill="#0b559f"/>
<circle cx="182.50" cy="382.45" r="1.85" fill="#0b559f"/>
<circle cx="180.50" cy="384.21" r="1.85" fill="#0b559f"/>
<circle cx="177.50" cy="385.57" r="1.85" fill="#0b559f"/>
<circle cx="183.50" cy="384.89" r="1.85" fill="#0b559f"/>
<rect x="190.70" y="369.17" width="9.80" height="18.43" fill="#ffffff" stroke="#555" stroke-width="0.8"/>
<line x1="195.60" y1="357.11" x2="195.60" y2="381.50" stroke="#555" stroke-width="0.8"/>
<line x1="193.00" y1="357.11" x2="198.20" y2="357.11" stroke="#555" stroke-width="0.8"/>
<line x1="193.00" y1="381.50" x2="198.20" y2="381.50" stroke="#555" stroke-width="0.8"/>
<circle cx="192.60" cy="351.29" r="1.85" fill="#ff2a10"/>
<circle cx="198.60" cy="352.10" r="1.85" fill="#ff2a10"/>
<circle cx="194.60" cy="352.64" r="1.85" fill="#ff2a10"/>
<circle cx="199.60" cy="353.73" r="1.85" fill="#ff2a10"/>
<circle cx="191.60" cy="356.16" r="1.85" fill="#ff2a10"/>
<circle cx="199.60" cy="357.79" r="1.85" fill="#ff2a10"/>
<circle cx="195.60" cy="359.15" r="1.85" fill="#ff2a10"/>
<circle cx="192.60" cy="361.18" r="1.85" fill="#ff2a10"/>
<circle cx="198.60" cy="362.53" r="1.85" fill="#ff2a10"/>
<circle cx="195.60" cy="364.84" r="1.85" fill="#ff2a10"/>
<circle cx="191.60" cy="367.28" r="1.85" fill="#ff2a10"/>
<circle cx="199.60" cy="368.63" r="1.85" fill="#ff2a10"/>
<circle cx="195.60" cy="371.34" r="1.85" fill="#ff2a10"/>
<circle cx="192.60" cy="374.05" r="1.85" fill="#ff2a10"/>
<circle cx="198.60" cy="375.41" r="1.85" fill="#ff2a10"/>
<circle cx="195.60" cy="378.12" r="1.85" fill="#ff2a10"/>
<circle cx="191.60" cy="380.15" r="1.85" fill="#ff2a10"/>
<circle cx="199.60" cy="380.83" r="1.85" fill="#ff2a10"/>
<circle cx="195.60" cy="382.86" r="1.85" fill="#ff2a10"/>
<circle cx="192.60" cy="384.89" r="1.85" fill="#ff2a10"/>
<circle cx="198.60" cy="384.89" r="1.85" fill="#ff2a10"/>
<rect x="206.30" y="362.94" width="9.80" height="24.66" fill="#d5e6f6" stroke="#555" stroke-width="0.8"/>
<line x1="211.20" y1="338.82" x2="211.20" y2="384.89" stroke="#555" stroke-width="0.8"/>
<line x1="208.60" y1="338.82" x2="213.80" y2="338.82" stroke="#555" stroke-width="0.8"/>
<line x1="208.60" y1="384.89" x2="213.80" y2="384.89" stroke="#555" stroke-width="0.8"/>
<circle cx="211.20" cy="323.24" r="1.85" fill="#3d95d8"/>
<circle cx="211.20" cy="337.74" r="1.85" fill="#3d95d8"/>
<circle cx="211.20" cy="349.39" r="1.85" fill="#3d95d8"/>
<circle cx="207.20" cy="375.68" r="1.85" fill="#3d95d8"/>
<circle cx="211.20" cy="376.08" r="1.85" fill="#3d95d8"/>
<circle cx="215.20" cy="376.08" r="1.85" fill="#3d95d8"/>
<circle cx="207.20" cy="379.47" r="1.85" fill="#3d95d8"/>
<circle cx="215.20" cy="379.74" r="1.85" fill="#3d95d8"/>
<circle cx="211.20" cy="383.54" r="1.85" fill="#3d95d8"/>
<rect x="221.40" y="354.00" width="9.80" height="33.60" fill="#fcd6d9" stroke="#666" stroke-width="0.8"/>
<line x1="226.30" y1="338.55" x2="226.30" y2="369.31" stroke="#666" stroke-width="0.8"/>
<line x1="223.70" y1="338.55" x2="228.90" y2="338.55" stroke="#666" stroke-width="0.8"/>
<line x1="223.70" y1="369.31" x2="228.90" y2="369.31" stroke="#666" stroke-width="0.8"/>
<circle cx="226.30" cy="329.06" r="1.85" fill="#f04858"/>
<circle cx="226.30" cy="333.40" r="1.85" fill="#f04858"/>
<circle cx="226.30" cy="348.03" r="1.85" fill="#f04858"/>
<circle cx="222.30" cy="353.05" r="1.85" fill="#f04858"/>
<circle cx="230.30" cy="353.05" r="1.85" fill="#f04858"/>
<circle cx="226.30" cy="355.76" r="1.85" fill="#f04858"/>
<circle cx="226.30" cy="359.82" r="1.85" fill="#f04858"/>
<circle cx="222.30" cy="367.28" r="1.85" fill="#f04858"/>
<circle cx="230.30" cy="367.55" r="1.85" fill="#f04858"/>
<circle cx="222.30" cy="371.34" r="1.85" fill="#f04858"/>
<circle cx="230.30" cy="371.61" r="1.85" fill="#f04858"/>
<path d="M165.10,350.00 L165.10,309.40 L226.30,309.40 L226.30,325.00" fill="none" stroke="#6a6a6a" stroke-width="0.9"/>
<polygon points="193.35,303.00 193.95,304.43 195.49,304.55 194.31,305.56 194.67,307.07 193.35,306.26 192.03,307.07 192.39,305.56 191.21,304.55 192.75,304.43" fill="#222"/>
<polygon points="198.05,303.00 198.65,304.43 200.19,304.55 199.01,305.56 199.37,307.07 198.05,306.26 196.73,307.07 197.09,305.56 195.91,304.55 197.45,304.43" fill="#222"/>
<text transform="translate(126.30,343.20) rotate(-90) scale(1.0,0.86)" font-size="9.6" text-anchor="middle" fill="#222" font-weight="normal" >CXCL8 (pg ml<tspan font-size="6.0" dy="-3.2">−1</tspan><tspan dy="3.2">)</tspan></text>
<text transform="translate(168.00,398.50) rotate(-45) scale(1.0,0.92)" font-size="8.9" text-anchor="end" fill="#111" font-weight="normal" >CTR</text>
<text transform="translate(183.40,398.50) rotate(-45) scale(1.0,0.92)" font-size="8.9" text-anchor="end" fill="#111" font-weight="normal" >R</text>
<text transform="translate(198.50,398.50) rotate(-45) scale(1.0,0.92)" font-size="8.9" text-anchor="end" fill="#111" font-weight="normal" >NR</text>
<text transform="translate(214.10,398.50) rotate(-45) scale(1.0,0.92)" font-size="8.9" text-anchor="end" fill="#111" font-weight="normal" >R-Sup</text>
<text transform="translate(229.20,398.50) rotate(-45) scale(1.0,0.92)" font-size="8.9" text-anchor="end" fill="#111" font-weight="normal" >NR-Sup</text>
<line x1="290.50" y1="306.40" x2="290.50" y2="387.60" stroke="#555" stroke-width="0.8"/>
<line x1="289.00" y1="387.60" x2="372.00" y2="387.60" stroke="#555" stroke-width="0.8"/>
<line x1="287.50" y1="387.60" x2="290.50" y2="387.60" stroke="#555" stroke-width="0.8"/>
<text transform="translate(283.40,390.12) scale(1.0,0.9)" font-size="8.0" text-anchor="end" fill="#1e1e1e" font-weight="normal" >0</text>
<line x1="287.50" y1="367.30" x2="290.50" y2="367.30" stroke="#555" stroke-width="0.8"/>
<text transform="translate(283.40,369.82) scale(1.0,0.9)" font-size="8.0" text-anchor="end" fill="#1e1e1e" font-weight="normal" >2,000</text>
<line x1="287.50" y1="347.00" x2="290.50" y2="347.00" stroke="#555" stroke-width="0.8"/>
<text transform="translate(283.40,349.52) scale(1.0,0.9)" font-size="8.0" text-anchor="end" fill="#1e1e1e" font-weight="normal" >4,000</text>
<line x1="287.50" y1="326.70" x2="290.50" y2="326.70" stroke="#555" stroke-width="0.8"/>
<text transform="translate(283.40,329.22) scale(1.0,0.9)" font-size="8.0" text-anchor="end" fill="#1e1e1e" font-weight="normal" >6,000</text>
<line x1="287.50" y1="306.40" x2="290.50" y2="306.40" stroke="#555" stroke-width="0.8"/>
<text transform="translate(283.40,308.92) scale(1.0,0.9)" font-size="8.0" text-anchor="end" fill="#1e1e1e" font-weight="normal" >8,000</text>
<line x1="288.40" y1="377.45" x2="290.50" y2="377.45" stroke="#555" stroke-width="0.7"/>
<line x1="288.40" y1="357.15" x2="290.50" y2="357.15" stroke="#555" stroke-width="0.7"/>
<line x1="288.40" y1="336.85" x2="290.50" y2="336.85" stroke="#555" stroke-width="0.7"/>
<line x1="288.40" y1="316.55" x2="290.50" y2="316.55" stroke="#555" stroke-width="0.7"/>
<line x1="300.20" y1="387.60" x2="300.20" y2="389.60" stroke="#555" stroke-width="0.8"/>
<line x1="315.60" y1="387.60" x2="315.60" y2="389.60" stroke="#555" stroke-width="0.8"/>
<line x1="330.70" y1="387.60" x2="330.70" y2="389.60" stroke="#555" stroke-width="0.8"/>
<line x1="346.20" y1="387.60" x2="346.20" y2="389.60" stroke="#555" stroke-width="0.8"/>
<line x1="361.30" y1="387.60" x2="361.30" y2="389.60" stroke="#555" stroke-width="0.8"/>
<rect x="295.30" y="366.79" width="9.80" height="20.81" fill="#ffffff" stroke="#888" stroke-width="0.8"/>
<line x1="300.20" y1="361.21" x2="300.20" y2="372.38" stroke="#888" stroke-width="0.8"/>
<line x1="297.60" y1="361.21" x2="302.80" y2="361.21" stroke="#888" stroke-width="0.8"/>
<line x1="297.60" y1="372.38" x2="302.80" y2="372.38" stroke="#888" stroke-width="0.8"/>
<circle cx="300.20" cy="355.63" r="1.85" fill="#9a9a9a"/>
<circle cx="297.20" cy="360.70" r="1.85" fill="#9a9a9a"/>
<circle cx="303.20" cy="362.23" r="1.85" fill="#9a9a9a"/>
<circle cx="300.20" cy="364.25" r="1.85" fill="#9a9a9a"/>
<circle cx="297.20" cy="367.30" r="1.85" fill="#9a9a9a"/>
<circle cx="303.20" cy="368.31" r="1.85" fill="#9a9a9a"/>
<circle cx="300.20" cy="370.35" r="1.85" fill="#9a9a9a"/>
<circle cx="297.20" cy="372.38" r="1.85" fill="#9a9a9a"/>
<circle cx="303.20" cy="374.41" r="1.85" fill="#9a9a9a"/>
<circle cx="300.20" cy="378.47" r="1.85" fill="#9a9a9a"/>
<rect x="310.70" y="364.46" width="9.80" height="23.14" fill="#ffffff" stroke="#555" stroke-width="0.8"/>
<line x1="315.60" y1="356.13" x2="315.60" y2="372.38" stroke="#555" stroke-width="0.8"/>
<line x1="313.00" y1="356.13" x2="318.20" y2="356.13" stroke="#555" stroke-width="0.8"/>
<line x1="313.00" y1="372.38" x2="318.20" y2="372.38" stroke="#555" stroke-width="0.8"/>
<circle cx="315.60" cy="344.97" r="1.85" fill="#0b559f"/>
<circle cx="313.60" cy="357.15" r="1.85" fill="#0b559f"/>
<circle cx="317.60" cy="358.67" r="1.85" fill="#0b559f"/>
<circle cx="311.60" cy="360.70" r="1.85" fill="#0b559f"/>
<circle cx="319.60" cy="361.21" r="1.85" fill="#0b559f"/>
<circle cx="315.60" cy="362.73" r="1.85" fill="#0b559f"/>
<circle cx="312.60" cy="364.25" r="1.85" fill="#0b559f"/>
<circle cx="318.60" cy="364.76" r="1.85" fill="#0b559f"/>
<circle cx="315.60" cy="365.78" r="1.85" fill="#0b559f"/>
<circle cx="311.60" cy="367.30" r="1.85" fill="#0b559f"/>
<circle cx="319.60" cy="367.81" r="1.85" fill="#0b559f"/>
<circle cx="313.60" cy="374.41" r="1.85" fill="#0b559f"/>
<circle cx="317.60" cy="375.93" r="1.85" fill="#0b559f"/>
<circle cx="315.60" cy="377.45" r="1.85" fill="#0b559f"/>
<rect x="325.80" y="364.46" width="9.80" height="23.14" fill="#ffffff" stroke="#555" stroke-width="0.8"/>
<line x1="330.70" y1="354.11" x2="330.70" y2="375.42" stroke="#555" stroke-width="0.8"/>
<line x1="328.10" y1="354.11" x2="333.30" y2="354.11" stroke="#555" stroke-width="0.8"/>
<line x1="328.10" y1="375.42" x2="333.30" y2="375.42" stroke="#555" stroke-width="0.8"/>
<circle cx="329.70" cy="343.96" r="1.85" fill="#ff2a10"/>
<circle cx="331.70" cy="345.99" r="1.85" fill="#ff2a10"/>
<circle cx="330.70" cy="350.05" r="1.85" fill="#ff2a10"/>
<circle cx="330.70" cy="354.11" r="1.85" fill="#ff2a10"/>
<circle cx="327.70" cy="358.17" r="1.85" fill="#ff2a10"/>
<circle cx="333.70" cy="360.20" r="1.85" fill="#ff2a10"/>
<circle cx="330.70" cy="362.23" r="1.85" fill="#ff2a10"/>
<circle cx="326.70" cy="365.27" r="1.85" fill="#ff2a10"/>
<circle cx="334.70" cy="366.29" r="1.85" fill="#ff2a10"/>
<circle cx="330.70" cy="367.30" r="1.85" fill="#ff2a10"/>
<circle cx="327.70" cy="369.33" r="1.85" fill="#ff2a10"/>
<circle cx="333.70" cy="370.35" r="1.85" fill="#ff2a10"/>
<circle cx="330.70" cy="371.36" r="1.85" fill="#ff2a10"/>
<circle cx="326.70" cy="372.88" r="1.85" fill="#ff2a10"/>
<circle cx="334.70" cy="373.39" r="1.85" fill="#ff2a10"/>
<circle cx="330.70" cy="374.91" r="1.85" fill="#ff2a10"/>
<circle cx="327.70" cy="376.44" r="1.85" fill="#ff2a10"/>
<circle cx="333.70" cy="377.45" r="1.85" fill="#ff2a10"/>
<rect x="341.30" y="362.43" width="9.80" height="25.17" fill="#d5e6f6" stroke="#555" stroke-width="0.8"/>
<line x1="346.20" y1="351.06" x2="346.20" y2="375.42" stroke="#555" stroke-width="0.8"/>
<line x1="343.60" y1="351.06" x2="348.80" y2="351.06" stroke="#555" stroke-width="0.8"/>
<line x1="343.60" y1="375.42" x2="348.80" y2="375.42" stroke="#555" stroke-width="0.8"/>
<circle cx="346.20" cy="348.02" r="1.85" fill="#3d95d8"/>
<circle cx="342.20" cy="354.61" r="1.85" fill="#3d95d8"/>
<circle cx="350.20" cy="353.60" r="1.85" fill="#3d95d8"/>
<circle cx="346.20" cy="355.63" r="1.85" fill="#3d95d8"/>
<circle cx="346.20" cy="362.23" r="1.85" fill="#3d95d8"/>
<circle cx="346.20" cy="366.29" r="1.85" fill="#3d95d8"/>
<circle cx="342.20" cy="374.41" r="1.85" fill="#3d95d8"/>
<circle cx="350.20" cy="374.41" r="1.85" fill="#3d95d8"/>
<circle cx="346.20" cy="381.51" r="1.85" fill="#3d95d8"/>
<rect x="356.40" y="342.84" width="9.80" height="44.76" fill="#fcd6d9" stroke="#666" stroke-width="0.8"/>
<line x1="361.30" y1="327.21" x2="361.30" y2="358.17" stroke="#666" stroke-width="0.8"/>
<line x1="358.70" y1="327.21" x2="363.90" y2="327.21" stroke="#666" stroke-width="0.8"/>
<line x1="358.70" y1="358.17" x2="363.90" y2="358.17" stroke="#666" stroke-width="0.8"/>
<circle cx="359.30" cy="322.64" r="1.85" fill="#f04858"/>
<circle cx="363.30" cy="322.64" r="1.85" fill="#f04858"/>
<circle cx="361.30" cy="327.72" r="1.85" fill="#f04858"/>
<circle cx="361.30" cy="348.52" r="1.85" fill="#f04858"/>
<circle cx="357.30" cy="351.06" r="1.85" fill="#f04858"/>
<circle cx="365.30" cy="351.06" r="1.85" fill="#f04858"/>
<circle cx="358.30" cy="354.11" r="1.85" fill="#f04858"/>
<circle cx="364.30" cy="354.11" r="1.85" fill="#f04858"/>
<circle cx="361.30" cy="356.13" r="1.85" fill="#f04858"/>
<path d="M300.20,350.00 L300.20,288.30 L361.30,288.30 L361.30,305.00" fill="none" stroke="#6a6a6a" stroke-width="0.9"/>
<polygon points="326.05,282.00 326.65,283.43 328.19,283.55 327.01,284.56 327.37,286.07 326.05,285.26 324.73,286.07 325.09,284.56 323.91,283.55 325.45,283.43" fill="#222"/>
<polygon points="330.75,282.00 331.35,283.43 332.89,283.55 331.71,284.56 332.07,286.07 330.75,285.26 329.43,286.07 329.79,284.56 328.61,283.55 330.15,283.43" fill="#222"/>
<polygon points="335.45,282.00 336.05,283.43 337.59,283.55 336.41,284.56 336.77,286.07 335.45,285.26 334.13,286.07 334.49,284.56 333.31,283.55 334.85,283.43" fill="#222"/>
<path d="M346.20,345.00 L346.20,308.10 L361.30,308.10 L361.30,320.00" fill="none" stroke="#6a6a6a" stroke-width="0.9"/>
<polygon points="351.40,302.80 352.00,304.23 353.54,304.35 352.36,305.36 352.72,306.87 351.40,306.06 350.08,306.87 350.44,305.36 349.26,304.35 350.80,304.23" fill="#222"/>
<polygon points="356.10,302.80 356.70,304.23 358.24,304.35 357.06,305.36 357.42,306.87 356.10,306.06 354.78,306.87 355.14,305.36 353.96,304.35 355.50,304.23" fill="#222"/>
<text transform="translate(255.60,345.60) rotate(-90) scale(1.0,0.86)" font-size="8.8" text-anchor="middle" fill="#222" font-weight="normal" >VEGF (pg ml<tspan font-size="5.6" dy="-3.2">−1</tspan><tspan dy="3.2">)</tspan></text>
<text transform="translate(303.00,399.10) rotate(-45) scale(1.0,0.92)" font-size="8.5" text-anchor="end" fill="#111" font-weight="normal" >CTR</text>
<text transform="translate(318.40,399.10) rotate(-45) scale(1.0,0.92)" font-size="8.5" text-anchor="end" fill="#111" font-weight="normal" >R</text>
<text transform="translate(333.50,399.10) rotate(-45) scale(1.0,0.92)" font-size="8.5" text-anchor="end" fill="#111" font-weight="normal" >NR</text>
<text transform="translate(349.00,399.10) rotate(-45) scale(1.0,0.92)" font-size="8.5" text-anchor="end" fill="#111" font-weight="normal" >R-Sup</text>
<text transform="translate(364.10,399.10) rotate(-45) scale(1.0,0.92)" font-size="8.5" text-anchor="end" fill="#111" font-weight="normal" >NR-Sup</text>
<line x1="415.30" y1="305.30" x2="415.30" y2="343.30" stroke="#555" stroke-width="0.8"/>
<line x1="411.30" y1="331.90" x2="415.30" y2="331.90" stroke="#555" stroke-width="0.8"/>
<text transform="translate(407.40,334.42)" font-size="7.2" text-anchor="end" fill="#1e1e1e" font-weight="normal" >10</text>
<line x1="411.30" y1="318.60" x2="415.30" y2="318.60" stroke="#555" stroke-width="0.8"/>
<text transform="translate(407.40,321.12)" font-size="7.2" text-anchor="end" fill="#1e1e1e" font-weight="normal" >20</text>
<line x1="411.30" y1="305.30" x2="415.30" y2="305.30" stroke="#555" stroke-width="0.8"/>
<text transform="translate(407.40,307.82)" font-size="7.2" text-anchor="end" fill="#1e1e1e" font-weight="normal" >30</text>
<line x1="413.30" y1="338.55" x2="415.30" y2="338.55" stroke="#555" stroke-width="0.7"/>
<line x1="413.30" y1="325.25" x2="415.30" y2="325.25" stroke="#555" stroke-width="0.7"/>
<line x1="413.30" y1="311.95" x2="415.30" y2="311.95" stroke="#555" stroke-width="0.7"/>
<line x1="413.00" y1="343.30" x2="417.60" y2="343.30" stroke="#555" stroke-width="0.8"/>
<line x1="415.30" y1="350.60" x2="415.30" y2="387.50" stroke="#555" stroke-width="0.8"/>
<line x1="413.80" y1="387.50" x2="496.40" y2="387.50" stroke="#555" stroke-width="0.8"/>
<line x1="413.00" y1="350.60" x2="417.60" y2="350.60" stroke="#555" stroke-width="0.8"/>
<line x1="411.30" y1="387.50" x2="415.30" y2="387.50" stroke="#555" stroke-width="0.8"/>
<text transform="translate(407.40,390.02)" font-size="7.2" text-anchor="end" fill="#1e1e1e" font-weight="normal" >0</text>
<line x1="411.30" y1="375.20" x2="415.30" y2="375.20" stroke="#555" stroke-width="0.8"/>
<text transform="translate(407.40,377.72)" font-size="7.2" text-anchor="end" fill="#1e1e1e" font-weight="normal" >0.5</text>
<line x1="411.30" y1="362.90" x2="415.30" y2="362.90" stroke="#555" stroke-width="0.8"/>
<text transform="translate(407.40,365.42)" font-size="7.2" text-anchor="end" fill="#1e1e1e" font-weight="normal" >1.0</text>
<text transform="translate(407.40,353.12)" font-size="7.2" text-anchor="end" fill="#1e1e1e" font-weight="normal" >1.5</text>
<line x1="413.30" y1="381.35" x2="415.30" y2="381.35" stroke="#555" stroke-width="0.7"/>
<line x1="413.30" y1="369.05" x2="415.30" y2="369.05" stroke="#555" stroke-width="0.7"/>
<line x1="413.30" y1="356.75" x2="415.30" y2="356.75" stroke="#555" stroke-width="0.7"/>
<line x1="425.50" y1="387.50" x2="425.50" y2="389.50" stroke="#555" stroke-width="0.8"/>
<line x1="440.80" y1="387.50" x2="440.80" y2="389.50" stroke="#555" stroke-width="0.8"/>
<line x1="456.00" y1="387.50" x2="456.00" y2="389.50" stroke="#555" stroke-width="0.8"/>
<line x1="471.50" y1="387.50" x2="471.50" y2="389.50" stroke="#555" stroke-width="0.8"/>
<line x1="486.80" y1="387.50" x2="486.80" y2="389.50" stroke="#555" stroke-width="0.8"/>
<rect x="420.60" y="384.30" width="9.80" height="3.20" fill="#ffffff" stroke="#888" stroke-width="0.8"/>
<line x1="425.50" y1="380.12" x2="425.50" y2="386.76" stroke="#888" stroke-width="0.8"/>
<line x1="423.10" y1="380.12" x2="427.90" y2="380.12" stroke="#888" stroke-width="0.8"/>
<line x1="423.10" y1="386.76" x2="427.90" y2="386.76" stroke="#888" stroke-width="0.8"/>
<circle cx="425.50" cy="377.66" r="1.85" fill="#9a9a9a"/>
<circle cx="422.50" cy="381.35" r="1.85" fill="#9a9a9a"/>
<circle cx="428.50" cy="382.09" r="1.85" fill="#9a9a9a"/>
<circle cx="425.50" cy="383.07" r="1.85" fill="#9a9a9a"/>
<circle cx="422.50" cy="384.55" r="1.85" fill="#9a9a9a"/>
<circle cx="428.50" cy="385.04" r="1.85" fill="#9a9a9a"/>
<circle cx="424.50" cy="386.02" r="1.85" fill="#9a9a9a"/>
<circle cx="427.50" cy="386.27" r="1.85" fill="#9a9a9a"/>
<path d="M435.90,342.90 L435.90,330.80 L445.70,330.80 L445.70,342.90" fill="none" stroke="#555" stroke-width="0.8"/>
<path d="M435.90,387.50 L435.90,350.60 M445.70,350.60 L445.70,387.50" fill="none" stroke="#555" stroke-width="0.8"/>
<line x1="440.80" y1="298.00" x2="440.80" y2="342.90" stroke="#555" stroke-width="0.8"/>
<line x1="438.20" y1="318.00" x2="443.40" y2="318.00" stroke="#555" stroke-width="0.8"/>
<line x1="440.80" y1="350.60" x2="440.80" y2="367.82" stroke="#555" stroke-width="0.8"/>
<line x1="438.20" y1="367.82" x2="443.40" y2="367.82" stroke="#555" stroke-width="0.8"/>
<circle cx="437.30" cy="313.94" r="1.85" fill="#0b559f"/>
<circle cx="440.80" cy="311.55" r="1.85" fill="#0b559f"/>
<circle cx="444.30" cy="310.89" r="1.85" fill="#0b559f"/>
<circle cx="444.30" cy="317.27" r="1.85" fill="#0b559f"/>
<circle cx="440.80" cy="319.00" r="1.85" fill="#0b559f"/>
<circle cx="440.80" cy="326.85" r="1.85" fill="#0b559f"/>
<circle cx="437.30" cy="331.10" r="1.85" fill="#0b559f"/>
<circle cx="444.30" cy="331.10" r="1.85" fill="#0b559f"/>
<circle cx="440.80" cy="333.23" r="1.85" fill="#0b559f"/>
<circle cx="437.30" cy="339.48" r="1.85" fill="#0b559f"/>
<circle cx="440.80" cy="337.22" r="1.85" fill="#0b559f"/>
<circle cx="440.80" cy="342.81" r="1.85" fill="#0b559f"/>
<circle cx="437.30" cy="359.70" r="1.85" fill="#0b559f"/>
<circle cx="440.80" cy="361.67" r="1.85" fill="#0b559f"/>
<circle cx="440.80" cy="367.82" r="1.85" fill="#0b559f"/>
<circle cx="440.80" cy="373.97" r="1.85" fill="#0b559f"/>
<circle cx="440.80" cy="383.81" r="1.85" fill="#0b559f"/>
<line x1="451.10" y1="339.00" x2="451.10" y2="342.90" stroke="#555" stroke-width="0.8"/>
<line x1="460.90" y1="339.00" x2="460.90" y2="342.90" stroke="#555" stroke-width="0.8"/>
<line x1="451.10" y1="350.60" x2="451.10" y2="387.50" stroke="#555" stroke-width="0.8"/>
<line x1="460.90" y1="350.60" x2="460.90" y2="387.50" stroke="#555" stroke-width="0.8"/>
<line x1="456.00" y1="298.00" x2="456.00" y2="340.00" stroke="#777" stroke-width="0.8"/>
<line x1="456.00" y1="350.60" x2="456.00" y2="360.44" stroke="#777" stroke-width="0.8"/>
<line x1="453.40" y1="360.44" x2="458.60" y2="360.44" stroke="#777" stroke-width="0.8"/>
<circle cx="453.90" cy="340.45" r="1.7" fill="#ff2a10"/>
<circle cx="454.96" cy="340.78" r="1.7" fill="#ff2a10"/>
<circle cx="457.01" cy="337.77" r="1.7" fill="#ff2a10"/>
<circle cx="452.11" cy="342.09" r="1.7" fill="#ff2a10"/>
<circle cx="454.07" cy="338.71" r="1.7" fill="#ff2a10"/>
<circle cx="459.97" cy="340.03" r="1.7" fill="#ff2a10"/>
<circle cx="458.69" cy="340.07" r="1.7" fill="#ff2a10"/>
<circle cx="457.11" cy="338.24" r="1.7" fill="#ff2a10"/>
<circle cx="457.08" cy="342.26" r="1.7" fill="#ff2a10"/>
<circle cx="456.19" cy="341.55" r="1.7" fill="#ff2a10"/>
<circle cx="457.37" cy="337.76" r="1.7" fill="#ff2a10"/>
<circle cx="458.07" cy="340.71" r="1.7" fill="#ff2a10"/>
<circle cx="454.41" cy="337.57" r="1.7" fill="#ff2a10"/>
<circle cx="458.92" cy="340.05" r="1.7" fill="#ff2a10"/>
<circle cx="457.75" cy="342.32" r="1.7" fill="#ff2a10"/>
<circle cx="457.71" cy="342.56" r="1.7" fill="#ff2a10"/>
<circle cx="456.00" cy="351.34" r="1.85" fill="#ff2a10"/>
<circle cx="456.00" cy="355.52" r="1.85" fill="#ff2a10"/>
<circle cx="456.00" cy="360.93" r="1.85" fill="#ff2a10"/>
<circle cx="456.00" cy="364.62" r="1.85" fill="#ff2a10"/>
<circle cx="456.00" cy="367.82" r="1.85" fill="#ff2a10"/>
<rect x="466.60" y="378.40" width="9.80" height="9.10" fill="#d5e6f6" stroke="#555" stroke-width="0.8"/>
<line x1="471.50" y1="364.13" x2="471.50" y2="387.50" stroke="#555" stroke-width="0.8"/>
<line x1="468.90" y1="364.13" x2="474.10" y2="364.13" stroke="#555" stroke-width="0.8"/>
<line x1="468.90" y1="387.50" x2="474.10" y2="387.50" stroke="#555" stroke-width="0.8"/>
<circle cx="468.50" cy="357.98" r="1.85" fill="#3d95d8"/>
<circle cx="472.50" cy="356.75" r="1.85" fill="#3d95d8"/>
<circle cx="471.50" cy="369.05" r="1.85" fill="#3d95d8"/>
<circle cx="471.50" cy="382.58" r="1.85" fill="#3d95d8"/>
<circle cx="474.50" cy="381.35" r="1.85" fill="#3d95d8"/>
<circle cx="467.50" cy="386.76" r="1.85" fill="#3d95d8"/>
<circle cx="471.50" cy="386.76" r="1.85" fill="#3d95d8"/>
<circle cx="475.50" cy="386.76" r="1.85" fill="#3d95d8"/>
<rect x="481.90" y="378.40" width="9.80" height="9.10" fill="#fcd6d9" stroke="#666" stroke-width="0.8"/>
<line x1="486.80" y1="370.28" x2="486.80" y2="385.04" stroke="#777" stroke-width="0.8"/>
<line x1="484.20" y1="370.28" x2="489.40" y2="370.28" stroke="#777" stroke-width="0.8"/>
<line x1="484.20" y1="385.04" x2="489.40" y2="385.04" stroke="#777" stroke-width="0.8"/>
<circle cx="486.80" cy="366.34" r="1.85" fill="#f04858"/>
<circle cx="482.80" cy="372.74" r="1.85" fill="#f04858"/>
<circle cx="490.80" cy="372.25" r="1.85" fill="#f04858"/>
<circle cx="486.80" cy="375.20" r="1.85" fill="#f04858"/>
<circle cx="482.80" cy="376.43" r="1.85" fill="#f04858"/>
<circle cx="490.80" cy="377.17" r="1.85" fill="#f04858"/>
<circle cx="482.80" cy="380.12" r="1.85" fill="#f04858"/>
<circle cx="486.80" cy="381.35" r="1.85" fill="#f04858"/>
<circle cx="482.80" cy="386.27" r="1.85" fill="#f04858"/>
<circle cx="490.80" cy="385.04" r="1.85" fill="#f04858"/>
<path d="M425.50,360.00 L425.50,299.10 L440.80,299.10 L440.80,304.00" fill="none" stroke="#6a6a6a" stroke-width="0.9"/>
<polygon points="428.45,293.30 429.05,294.73 430.59,294.85 429.41,295.86 429.77,297.37 428.45,296.56 427.13,297.37 427.49,295.86 426.31,294.85 427.85,294.73" fill="#222"/>
<polygon points="433.15,293.30 433.75,294.73 435.29,294.85 434.11,295.86 434.47,297.37 433.15,296.56 431.83,297.37 432.19,295.86 431.01,294.85 432.55,294.73" fill="#222"/>
<polygon points="437.85,293.30 438.45,294.73 439.99,294.85 438.81,295.86 439.17,297.37 437.85,296.56 436.53,297.37 436.89,295.86 435.71,294.85 437.25,294.73" fill="#222"/>
<path d="M425.50,287.00 L425.50,278.60 L456.00,278.60 L456.00,333.00" fill="none" stroke="#6a6a6a" stroke-width="0.9"/>
<polygon points="438.40,273.40 439.00,274.83 440.54,274.95 439.36,275.96 439.72,277.47 438.40,276.66 437.08,277.47 437.44,275.96 436.26,274.95 437.80,274.83" fill="#222"/>
<polygon points="443.10,273.40 443.70,274.83 445.24,274.95 444.06,275.96 444.42,277.47 443.10,276.66 441.78,277.47 442.14,275.96 440.96,274.95 442.50,274.83" fill="#222"/>
<text transform="translate(388.90,346.00) rotate(-90)" font-size="8.6" text-anchor="middle" fill="#222" font-weight="normal" >IL-1β (pg ml<tspan font-size="5.6" dy="-3.2">−1</tspan><tspan dy="3.2">)</tspan></text>
<text transform="translate(428.20,399.50) rotate(-45)" font-size="7.9" text-anchor="end" fill="#111" font-weight="normal" >CTR</text>
<text transform="translate(443.50,399.50) rotate(-45)" font-size="7.9" text-anchor="end" fill="#111" font-weight="normal" >R</text>
<text transform="translate(458.70,399.50) rotate(-45)" font-size="7.9" text-anchor="end" fill="#111" font-weight="normal" >NR</text>
<text transform="translate(474.20,399.50) rotate(-45)" font-size="7.9" text-anchor="end" fill="#111" font-weight="normal" >R-Sup</text>
<text transform="translate(489.50,399.50) rotate(-45)" font-size="7.9" text-anchor="end" fill="#111" font-weight="normal" >NR-Sup</text>
<line x1="539.80" y1="261.30" x2="539.80" y2="385.10" stroke="#bdbdbd" stroke-width="1.3"/>
<line x1="539.20" y1="384.50" x2="665.40" y2="384.50" stroke="#bdbdbd" stroke-width="1.3"/>
<line x1="537.00" y1="384.50" x2="539.80" y2="384.50" stroke="#888" stroke-width="0.8"/>
<text transform="translate(532.40,386.96) scale(1.0,0.9)" font-size="7.8" text-anchor="end" fill="#1e1e1e" font-weight="normal" >0</text>
<line x1="537.00" y1="355.20" x2="539.80" y2="355.20" stroke="#888" stroke-width="0.8"/>
<text transform="translate(532.40,357.66) scale(1.0,0.9)" font-size="7.8" text-anchor="end" fill="#1e1e1e" font-weight="normal" >25</text>
<line x1="537.00" y1="325.90" x2="539.80" y2="325.90" stroke="#888" stroke-width="0.8"/>
<text transform="translate(532.40,328.36) scale(1.0,0.9)" font-size="7.8" text-anchor="end" fill="#1e1e1e" font-weight="normal" >50</text>
<line x1="537.00" y1="296.60" x2="539.80" y2="296.60" stroke="#888" stroke-width="0.8"/>
<text transform="translate(532.40,299.06) scale(1.0,0.9)" font-size="7.8" text-anchor="end" fill="#1e1e1e" font-weight="normal" >75</text>
<line x1="537.00" y1="267.30" x2="539.80" y2="267.30" stroke="#888" stroke-width="0.8"/>
<text transform="translate(532.40,269.76) scale(1.0,0.9)" font-size="7.8" text-anchor="end" fill="#1e1e1e" font-weight="normal" >100</text>
<line x1="556.90" y1="385.10" x2="556.90" y2="387.10" stroke="#555" stroke-width="0.8"/>
<line x1="649.00" y1="385.10" x2="649.00" y2="387.10" stroke="#555" stroke-width="0.8"/>
<line x1="556.90" y1="273.28" x2="556.90" y2="334.10" stroke="#aaaaaa" stroke-width="1.3"/>
<line x1="556.90" y1="374.42" x2="556.90" y2="382.74" stroke="#aaaaaa" stroke-width="1.3"/>
<line x1="649.00" y1="296.01" x2="649.00" y2="342.31" stroke="#aaaaaa" stroke-width="1.3"/>
<line x1="649.00" y1="372.31" x2="649.00" y2="383.33" stroke="#aaaaaa" stroke-width="1.3"/>
<path d="M548.9,378.1h0.01M561.5,311.0h0.01M560.1,378.8h0.01M556.4,342.9h0.01M550.1,378.0h0.01M563.9,331.0h0.01M564.3,312.0h0.01M557.2,366.3h0.01M557.0,374.1h0.01M550.6,357.2h0.01M545.0,367.7h0.01M553.8,351.3h0.01M558.9,302.3h0.01M546.6,381.1h0.01M564.0,379.3h0.01M550.5,379.6h0.01M550.5,374.0h0.01M545.9,361.2h0.01M568.8,378.8h0.01M562.6,333.5h0.01M565.9,347.5h0.01M559.7,376.4h0.01M545.7,374.4h0.01M552.8,332.2h0.01M556.8,314.3h0.01M547.7,310.7h0.01M567.7,285.7h0.01M553.7,355.7h0.01M548.6,327.2h0.01M564.5,368.2h0.01M547.9,341.5h0.01M567.2,353.5h0.01M555.8,371.8h0.01M558.1,368.6h0.01M553.1,312.4h0.01M556.5,326.6h0.01M549.4,354.4h0.01M545.8,367.3h0.01M565.7,352.3h0.01M550.5,320.1h0.01M563.6,354.6h0.01M549.9,356.2h0.01M568.2,362.7h0.01M566.4,300.5h0.01M563.0,358.2h0.01M563.2,373.8h0.01M558.8,300.9h0.01M562.4,381.1h0.01M547.8,352.6h0.01M556.3,376.3h0.01M564.7,334.3h0.01M549.7,382.7h0.01M567.1,310.2h0.01M566.2,368.9h0.01M554.7,336.0h0.01M553.7,362.0h0.01M555.7,369.9h0.01M554.2,334.0h0.01M568.8,381.2h0.01M554.2,371.9h0.01M545.5,337.6h0.01M547.1,326.0h0.01M562.1,367.4h0.01M568.7,345.1h0.01M556.8,369.9h0.01M556.7,379.0h0.01M558.1,370.0h0.01M562.9,354.8h0.01M550.2,352.2h0.01M559.5,382.8h0.01M558.3,354.2h0.01M559.8,354.5h0.01M549.2,300.2h0.01M549.0,364.2h0.01M553.3,363.1h0.01M567.1,337.1h0.01M553.2,375.4h0.01M559.2,377.8h0.01M552.3,319.7h0.01M547.4,376.2h0.01M546.5,373.0h0.01M564.4,372.9h0.01M563.5,331.9h0.01M553.9,363.3h0.01M561.3,363.0h0.01M561.1,381.0h0.01M566.5,322.7h0.01M567.9,352.0h0.01M554.7,357.4h0.01M568.6,377.3h0.01M568.0,379.7h0.01M559.1,355.5h0.01M566.1,354.5h0.01M556.7,290.5h0.01M553.9,381.7h0.01M550.8,373.0h0.01M565.9,348.8h0.01M548.8,327.5h0.01M546.6,330.2h0.01M564.2,373.8h0.01M563.5,327.2h0.01M556.5,309.6h0.01M565.0,371.6h0.01M546.2,362.5h0.01M551.1,373.9h0.01M551.9,352.8h0.01M555.0,374.5h0.01M549.0,373.9h0.01M546.6,363.0h0.01M553.0,356.6h0.01M566.5,364.9h0.01M568.5,378.3h0.01M562.8,340.1h0.01M556.4,365.1h0.01M551.0,348.2h0.01M567.9,354.0h0.01M557.5,373.7h0.01M562.4,376.3h0.01M545.6,319.0h0.01M550.0,366.1h0.01M565.0,372.1h0.01M564.0,299.4h0.01M566.1,363.4h0.01M559.3,363.1h0.01M555.1,368.5h0.01M558.8,378.4h0.01M565.3,379.2h0.01M552.3,348.1h0.01M557.7,372.6h0.01M551.5,325.1h0.01M563.3,380.1h0.01M545.1,317.8h0.01M561.3,378.1h0.01M567.8,368.4h0.01M545.5,371.1h0.01M559.1,381.2h0.01M560.4,378.2h0.01M565.3,367.5h0.01M558.9,368.8h0.01M551.1,338.4h0.01M554.6,315.6h0.01M567.9,380.4h0.01M566.6,365.6h0.01M548.1,356.0h0.01M547.2,354.2h0.01M547.2,375.3h0.01M545.5,344.6h0.01M555.6,364.0h0.01M548.3,378.6h0.01M565.7,368.5h0.01M560.6,363.2h0.01M547.9,292.0h0.01M557.8,374.1h0.01M552.7,330.7h0.01M556.8,368.1h0.01M550.2,291.3h0.01M548.9,341.6h0.01M549.3,365.6h0.01M554.0,366.7h0.01M561.9,366.1h0.01M558.1,363.5h0.01M546.0,365.4h0.01M562.0,306.3h0.01M565.9,369.5h0.01M563.5,367.6h0.01M563.9,365.8h0.01M545.1,363.3h0.01M556.0,328.7h0.01M546.4,321.0h0.01M563.2,375.0h0.01M549.1,341.9h0.01M562.0,343.2h0.01M551.0,358.8h0.01M561.6,352.2h0.01M552.4,367.6h0.01M545.9,374.9h0.01M554.2,283.8h0.01M552.3,321.3h0.01M566.5,360.0h0.01M552.0,376.8h0.01M557.0,373.5h0.01M558.1,371.5h0.01M567.7,346.3h0.01M547.3,374.2h0.01M559.3,324.0h0.01M557.1,344.0h0.01M562.5,362.6h0.01M568.1,330.6h0.01M552.3,375.3h0.01M561.7,346.0h0.01M557.5,356.8h0.01M558.4,344.1h0.01M546.4,375.5h0.01M564.5,370.3h0.01M568.3,320.3h0.01M553.4,357.8h0.01M552.5,381.8h0.01M568.7,362.4h0.01M547.5,361.5h0.01M546.7,360.6h0.01M546.7,348.1h0.01M564.4,354.8h0.01M563.1,368.4h0.01M555.7,365.5h0.01M559.8,335.9h0.01M545.4,346.2h0.01M560.4,315.8h0.01M555.5,346.2h0.01M557.3,311.1h0.01M554.2,362.5h0.01M554.5,362.4h0.01M550.3,381.2h0.01M546.1,310.6h0.01M555.3,376.5h0.01M550.8,338.7h0.01M561.8,360.3h0.01M564.5,377.3h0.01M562.3,381.5h0.01M555.8,373.6h0.01M550.6,373.0h0.01M554.1,362.8h0.01M556.6,380.8h0.01M560.1,375.7h0.01M568.0,371.5h0.01M546.9,357.1h0.01M556.4,361.6h0.01M556.7,372.0h0.01M562.1,315.6h0.01M566.3,375.4h0.01M563.6,351.4h0.01M559.9,374.1h0.01M563.1,377.1h0.01M560.9,364.9h0.01M565.5,370.5h0.01M561.7,353.4h0.01M561.3,378.1h0.01M550.8,361.0h0.01M566.9,335.5h0.01M554.2,367.3h0.01M559.7,360.2h0.01M564.7,368.1h0.01M568.0,366.1h0.01M568.6,355.6h0.01M545.1,379.1h0.01M552.4,334.5h0.01M552.4,314.2h0.01M554.3,308.8h0.01M548.4,365.2h0.01M558.2,367.8h0.01M546.8,365.3h0.01M552.2,336.2h0.01M567.5,376.8h0.01M562.7,361.2h0.01M556.0,359.6h0.01M547.5,316.2h0.01M567.8,380.5h0.01M561.8,360.0h0.01M549.8,364.1h0.01M552.9,376.6h0.01M560.3,329.1h0.01M561.3,382.6h0.01M551.2,364.6h0.01M567.7,365.7h0.01M552.6,366.8h0.01M551.0,374.0h0.01M565.2,349.8h0.01M548.6,362.2h0.01M561.2,340.8h0.01M549.7,353.3h0.01M559.3,370.5h0.01" stroke="#3a50d8" stroke-width="1.2" stroke-linecap="round" opacity="0.85" fill="none"/>
<path d="M567.1,347.2h0.01M567.7,370.5h0.01M566.3,361.6h0.01M546.9,302.1h0.01M559.1,378.6h0.01M555.1,343.0h0.01M557.6,362.5h0.01M548.0,366.6h0.01M549.5,377.5h0.01M555.6,355.6h0.01M550.2,361.5h0.01M555.8,331.8h0.01M545.5,353.5h0.01M547.0,331.2h0.01M561.9,364.1h0.01M555.0,359.8h0.01M557.2,353.4h0.01M562.5,322.3h0.01M553.5,366.6h0.01M546.3,362.3h0.01M563.7,356.9h0.01M559.0,338.7h0.01M560.7,370.4h0.01M559.8,359.8h0.01M568.2,371.8h0.01M553.6,363.0h0.01M563.1,335.6h0.01M553.7,374.1h0.01M558.6,343.3h0.01M560.8,339.2h0.01M552.4,350.9h0.01M547.0,354.4h0.01M556.3,376.4h0.01M562.1,337.4h0.01M559.1,306.1h0.01M555.6,331.4h0.01M560.3,327.0h0.01M549.3,373.0h0.01M549.2,312.9h0.01M552.7,377.4h0.01M564.5,328.2h0.01M549.6,375.2h0.01M547.6,347.4h0.01M547.3,330.8h0.01M545.8,275.3h0.01M551.5,325.6h0.01M558.6,366.6h0.01M564.6,375.4h0.01M552.8,340.5h0.01M553.8,359.8h0.01M551.8,363.8h0.01M552.2,324.7h0.01M563.6,375.5h0.01M558.1,353.1h0.01M551.1,356.6h0.01M547.5,372.9h0.01M563.7,330.1h0.01M561.9,350.2h0.01M564.8,373.3h0.01M550.6,370.8h0.01M558.0,367.5h0.01M566.9,357.6h0.01M559.1,356.5h0.01M567.6,321.2h0.01M548.9,365.4h0.01M568.3,364.3h0.01M546.2,378.2h0.01M554.9,353.6h0.01M545.5,374.0h0.01M564.3,268.5h0.01M561.4,380.3h0.01M568.3,380.3h0.01M564.2,338.3h0.01M567.7,382.2h0.01M557.8,380.0h0.01M568.6,382.2h0.01M562.9,290.4h0.01M553.2,379.9h0.01M568.3,321.6h0.01M553.9,373.0h0.01M549.5,377.8h0.01M546.7,287.1h0.01M556.1,362.1h0.01M549.6,376.1h0.01M567.3,378.7h0.01M567.7,331.5h0.01M550.1,277.9h0.01M547.4,373.3h0.01M557.6,368.2h0.01M549.0,380.7h0.01M557.9,360.0h0.01M564.4,369.9h0.01M551.0,337.8h0.01M555.0,374.5h0.01M566.5,328.2h0.01M555.6,280.4h0.01M553.1,310.0h0.01M566.3,382.0h0.01M564.4,372.8h0.01M566.4,369.2h0.01M561.4,319.4h0.01M554.8,380.5h0.01M561.5,382.7h0.01M564.8,336.9h0.01M560.2,352.3h0.01M550.6,309.9h0.01M552.0,374.6h0.01M554.7,302.8h0.01M563.4,353.0h0.01M558.3,353.7h0.01M558.1,367.5h0.01M564.7,372.4h0.01M547.5,358.1h0.01M560.0,358.1h0.01M552.9,372.4h0.01M558.3,352.5h0.01M564.9,374.2h0.01M550.9,376.9h0.01M567.7,382.7h0.01M546.8,371.9h0.01M558.4,357.1h0.01M557.9,357.7h0.01M550.5,372.0h0.01M558.4,317.4h0.01M556.2,377.5h0.01M555.7,377.2h0.01M562.1,302.1h0.01M545.0,365.5h0.01M554.0,328.2h0.01M563.8,380.0h0.01M548.3,375.6h0.01M565.7,282.1h0.01M549.8,306.5h0.01M561.2,368.5h0.01M549.1,367.3h0.01M555.7,376.3h0.01M555.0,342.3h0.01M546.9,380.8h0.01M561.7,375.7h0.01M556.4,373.5h0.01M561.4,340.1h0.01M557.8,370.8h0.01M558.2,359.4h0.01M557.5,367.5h0.01M552.0,371.6h0.01M566.5,347.9h0.01M547.0,380.2h0.01M565.9,323.9h0.01M565.6,302.2h0.01M556.8,346.2h0.01M563.5,353.2h0.01M561.1,368.7h0.01M559.4,375.7h0.01M551.9,376.9h0.01M552.6,317.7h0.01M553.3,381.0h0.01M552.2,292.9h0.01M567.9,371.8h0.01M553.1,377.6h0.01M554.2,364.5h0.01M555.0,294.1h0.01M564.5,379.5h0.01M556.4,376.9h0.01M558.2,363.3h0.01M551.0,376.3h0.01M551.6,371.9h0.01M547.0,299.8h0.01M550.1,327.5h0.01M551.2,381.7h0.01M565.4,356.2h0.01M557.0,282.3h0.01M547.5,365.6h0.01M556.0,365.0h0.01M547.8,332.8h0.01M558.5,374.4h0.01M555.5,302.2h0.01M565.5,311.2h0.01M551.1,322.9h0.01M565.3,333.4h0.01M550.8,364.8h0.01M568.5,329.7h0.01M560.1,362.6h0.01M545.9,275.3h0.01M564.3,375.7h0.01M551.5,377.2h0.01M553.6,371.4h0.01M548.4,381.2h0.01M565.0,370.3h0.01M547.1,330.6h0.01M562.6,367.7h0.01M554.4,360.6h0.01M561.2,341.1h0.01M551.9,356.1h0.01M546.8,378.2h0.01M566.9,333.3h0.01M560.6,375.4h0.01M549.0,342.5h0.01M568.3,380.6h0.01M566.8,379.9h0.01M549.3,355.7h0.01M545.4,353.3h0.01M559.6,377.5h0.01M548.2,370.5h0.01M562.5,351.4h0.01M556.2,383.0h0.01M561.9,364.7h0.01M558.6,380.5h0.01M563.4,370.6h0.01M564.6,376.8h0.01M559.4,363.2h0.01M559.1,371.6h0.01M552.7,343.7h0.01M548.1,361.7h0.01M547.1,353.7h0.01M565.5,364.2h0.01M549.8,268.6h0.01M555.1,371.2h0.01M552.5,373.1h0.01M559.8,375.9h0.01M557.7,364.7h0.01M565.5,361.5h0.01M555.4,346.2h0.01M553.6,378.2h0.01M560.5,380.3h0.01M562.8,376.4h0.01M567.1,368.2h0.01M552.4,315.0h0.01M566.2,358.1h0.01M568.5,376.9h0.01M568.5,369.6h0.01M548.0,373.1h0.01M554.0,376.1h0.01M563.5,359.9h0.01M564.8,380.3h0.01M545.8,360.6h0.01M554.4,377.1h0.01M562.3,309.5h0.01M563.1,353.6h0.01M557.7,349.5h0.01M550.0,377.4h0.01M554.7,285.2h0.01M546.3,361.0h0.01M552.5,368.1h0.01M555.2,376.0h0.01M564.7,336.6h0.01M559.0,338.5h0.01M554.8,366.1h0.01M550.8,311.9h0.01M552.5,378.8h0.01M561.0,371.0h0.01M555.6,373.4h0.01M549.1,367.4h0.01M564.6,355.1h0.01M558.7,350.4h0.01M568.1,270.2h0.01M557.8,274.5h0.01M559.9,367.2h0.01M555.2,313.1h0.01M559.5,342.4h0.01M567.0,363.1h0.01M568.5,367.6h0.01M560.8,377.2h0.01M555.2,368.5h0.01M546.4,374.1h0.01M565.1,357.2h0.01M554.3,370.4h0.01M554.1,379.2h0.01M546.3,373.7h0.01M545.7,375.4h0.01M554.3,353.3h0.01" stroke="#3a50d8" stroke-width="1.2" stroke-linecap="round" opacity="0.35" fill="none"/>
<path d="M660.0,379.3h0.01M640.4,367.6h0.01M637.6,325.9h0.01M661.0,367.6h0.01M641.4,378.2h0.01M639.9,371.3h0.01M652.6,332.3h0.01M645.3,341.1h0.01M658.3,340.2h0.01M642.6,331.3h0.01M660.0,365.6h0.01M644.7,370.1h0.01M651.4,366.2h0.01M659.4,340.5h0.01M653.4,341.9h0.01M659.2,369.8h0.01M654.0,368.1h0.01M638.2,272.2h0.01M658.2,343.5h0.01M651.1,372.8h0.01M644.5,358.2h0.01M641.6,382.8h0.01M657.4,366.6h0.01M651.0,337.6h0.01M659.5,379.0h0.01M655.6,348.5h0.01M660.1,329.4h0.01M650.6,377.0h0.01M653.8,377.1h0.01M651.7,357.7h0.01M643.2,378.5h0.01M660.0,323.4h0.01M644.5,340.8h0.01M655.7,335.8h0.01M659.9,374.4h0.01M652.6,320.9h0.01M640.4,357.1h0.01M656.8,382.7h0.01M653.0,382.6h0.01M641.4,315.9h0.01M638.2,348.2h0.01M649.8,382.0h0.01M637.8,361.5h0.01M659.2,375.5h0.01M649.2,359.1h0.01M649.4,353.0h0.01M646.8,366.6h0.01M652.9,374.2h0.01M659.0,339.5h0.01M644.4,358.4h0.01M646.0,379.0h0.01M651.0,366.1h0.01M644.1,369.1h0.01M651.3,369.9h0.01M650.0,365.3h0.01M647.4,373.1h0.01M653.2,337.4h0.01M649.7,379.0h0.01M639.1,281.0h0.01M660.9,352.7h0.01M645.5,317.4h0.01M647.4,371.2h0.01M646.7,360.7h0.01M659.3,380.9h0.01M659.9,353.8h0.01M649.3,371.7h0.01M646.6,364.6h0.01M639.3,278.0h0.01M658.5,287.5h0.01M641.1,378.5h0.01M650.1,369.3h0.01M645.4,354.1h0.01M644.9,340.1h0.01M645.6,372.5h0.01M641.6,369.0h0.01M637.9,331.2h0.01M649.9,375.9h0.01M656.1,322.6h0.01M652.5,297.7h0.01M641.8,353.3h0.01M653.6,291.9h0.01M638.3,379.4h0.01M646.9,369.3h0.01M656.9,356.9h0.01M659.1,356.8h0.01M648.1,374.4h0.01M657.3,330.4h0.01M649.0,363.2h0.01M649.6,343.0h0.01M651.0,323.1h0.01M660.8,379.8h0.01M654.8,344.5h0.01M648.4,379.6h0.01M654.5,362.2h0.01M652.4,313.8h0.01M645.5,358.0h0.01M655.8,360.6h0.01M656.7,373.3h0.01M651.6,306.7h0.01M659.6,369.4h0.01M637.4,364.3h0.01M649.0,375.9h0.01M652.2,366.1h0.01M645.2,357.5h0.01M641.1,362.3h0.01M653.6,355.3h0.01M647.4,307.2h0.01M643.5,379.8h0.01M638.0,339.5h0.01M660.2,323.6h0.01M645.5,337.2h0.01M639.8,356.7h0.01M642.2,372.0h0.01M643.1,374.6h0.01M657.8,374.0h0.01M641.3,356.9h0.01M643.6,356.9h0.01M639.3,310.8h0.01M648.3,343.1h0.01M642.0,378.6h0.01M645.3,305.8h0.01M654.6,347.4h0.01M659.2,379.1h0.01M657.0,332.5h0.01M637.9,343.5h0.01M646.1,333.8h0.01M657.4,366.0h0.01M637.8,353.0h0.01M641.9,330.5h0.01M648.8,309.3h0.01M646.2,376.8h0.01M655.0,379.2h0.01M654.2,352.2h0.01M648.1,373.9h0.01M643.0,373.0h0.01M642.5,376.6h0.01M643.4,365.8h0.01M638.6,321.8h0.01M653.0,327.4h0.01M640.8,288.8h0.01M658.3,375.6h0.01M652.5,378.5h0.01M638.4,355.1h0.01M649.0,349.9h0.01M651.5,354.6h0.01M638.0,337.0h0.01M648.7,314.0h0.01M637.7,381.3h0.01M655.4,273.5h0.01M637.1,356.6h0.01M652.2,354.0h0.01M660.7,359.8h0.01M657.3,376.7h0.01M642.6,366.9h0.01M649.8,350.4h0.01M640.4,379.7h0.01M645.2,331.5h0.01M657.7,373.2h0.01M656.6,375.2h0.01M637.2,360.9h0.01M646.1,357.9h0.01M652.4,379.5h0.01M641.2,333.5h0.01M656.3,372.9h0.01M658.4,375.3h0.01M650.2,370.5h0.01M645.7,376.6h0.01M657.4,331.2h0.01M649.3,276.5h0.01M641.5,362.5h0.01M643.7,302.1h0.01M640.8,369.8h0.01M657.1,378.3h0.01M649.2,375.1h0.01M653.7,368.7h0.01M656.6,330.0h0.01M660.4,377.2h0.01M641.6,348.9h0.01M646.7,356.0h0.01M658.0,372.6h0.01M655.3,336.1h0.01M646.3,373.7h0.01M652.7,376.0h0.01M641.7,366.9h0.01M640.9,366.6h0.01M638.2,362.3h0.01M646.1,364.3h0.01M642.7,327.1h0.01M649.4,360.6h0.01M660.3,375.6h0.01M640.7,376.0h0.01M650.4,319.5h0.01M657.8,328.6h0.01M651.4,375.6h0.01M649.7,369.0h0.01M655.4,360.3h0.01M637.5,365.8h0.01M659.8,373.7h0.01M653.5,366.4h0.01M656.4,363.9h0.01M656.8,297.4h0.01M639.4,381.5h0.01M638.6,368.5h0.01M641.3,375.4h0.01M649.1,339.1h0.01M659.5,358.2h0.01M658.8,358.5h0.01M646.9,345.9h0.01M651.9,302.1h0.01M654.8,335.1h0.01M645.0,378.9h0.01M660.3,345.1h0.01M659.6,380.4h0.01M654.4,371.1h0.01M658.6,348.5h0.01M656.2,375.5h0.01M652.7,371.8h0.01M644.7,308.1h0.01M643.8,367.4h0.01M642.7,370.0h0.01M638.4,380.1h0.01M659.2,374.9h0.01M644.2,358.4h0.01M637.6,335.8h0.01M644.6,378.3h0.01M639.5,313.0h0.01M647.7,377.7h0.01M645.0,345.8h0.01M641.2,357.8h0.01M648.4,352.9h0.01M647.0,382.0h0.01M645.5,357.5h0.01M656.5,347.5h0.01M644.4,380.5h0.01M650.0,375.4h0.01M658.1,371.8h0.01M660.0,364.2h0.01M646.0,357.0h0.01M638.0,346.1h0.01M659.8,370.0h0.01M649.3,310.1h0.01M642.2,333.5h0.01M640.1,358.1h0.01M642.7,370.1h0.01M644.5,379.1h0.01M640.3,361.8h0.01M638.2,362.1h0.01M660.9,361.4h0.01M656.7,359.9h0.01M639.7,373.2h0.01M648.5,326.1h0.01M656.2,374.1h0.01M649.1,377.4h0.01M638.7,383.3h0.01M645.2,339.8h0.01M646.1,343.8h0.01M658.9,353.9h0.01M651.0,376.0h0.01M648.0,378.6h0.01M652.1,348.2h0.01M638.2,364.2h0.01M653.5,327.1h0.01M656.4,378.8h0.01M653.1,381.6h0.01M645.7,365.0h0.01M643.9,371.3h0.01M637.2,376.0h0.01M639.0,340.8h0.01M640.7,357.8h0.01M647.9,355.1h0.01M655.7,370.9h0.01M642.2,376.3h0.01M648.3,379.7h0.01M652.3,372.1h0.01M652.1,345.8h0.01M637.5,371.6h0.01M659.1,354.2h0.01M651.0,342.7h0.01M644.3,379.0h0.01M642.7,377.1h0.01M653.5,351.2h0.01M659.4,307.5h0.01M645.1,368.5h0.01M646.6,372.1h0.01M650.4,372.3h0.01M641.2,352.9h0.01M646.7,365.2h0.01M659.0,349.5h0.01M650.4,307.1h0.01M656.8,376.1h0.01M643.3,366.2h0.01M657.8,365.6h0.01M655.8,368.1h0.01M642.4,307.1h0.01M649.7,362.8h0.01M653.4,350.8h0.01M650.7,373.0h0.01M651.4,375.7h0.01M642.8,348.9h0.01M650.3,380.9h0.01M645.5,358.7h0.01M656.2,359.7h0.01M645.9,363.4h0.01M660.5,366.4h0.01M650.9,381.8h0.01M642.5,341.3h0.01M647.0,346.7h0.01M640.1,371.0h0.01M654.7,364.6h0.01M638.1,356.3h0.01M651.5,366.4h0.01M644.4,275.0h0.01M655.6,324.3h0.01M640.0,312.4h0.01M653.3,381.6h0.01M654.1,315.4h0.01M642.6,298.0h0.01M640.1,342.7h0.01M645.9,373.3h0.01M652.6,363.8h0.01M643.3,361.9h0.01M637.2,360.8h0.01M647.6,375.0h0.01M656.4,331.7h0.01M640.8,370.8h0.01M659.6,365.5h0.01M649.2,349.7h0.01M640.9,379.2h0.01M639.4,363.6h0.01M645.9,368.3h0.01M648.4,363.2h0.01M641.2,343.5h0.01M639.0,373.2h0.01M649.0,365.1h0.01M643.1,356.1h0.01M647.7,326.9h0.01M647.8,359.7h0.01M653.7,375.5h0.01M650.9,368.6h0.01M642.5,334.1h0.01M641.3,363.0h0.01M657.6,282.8h0.01M638.2,383.1h0.01M640.0,379.6h0.01M638.7,348.7h0.01M656.8,365.4h0.01M650.0,371.6h0.01M659.2,377.8h0.01M652.0,352.6h0.01M645.0,367.7h0.01M647.3,356.7h0.01M654.6,375.7h0.01M642.5,360.5h0.01M656.3,320.5h0.01M646.8,355.0h0.01M638.0,330.8h0.01M645.2,356.4h0.01M650.4,361.0h0.01M640.5,380.4h0.01M658.7,382.4h0.01M659.2,329.5h0.01M649.3,357.4h0.01M658.7,366.7h0.01M653.6,365.5h0.01M649.9,363.0h0.01M640.8,356.4h0.01M659.9,373.3h0.01M659.1,335.3h0.01M647.8,376.1h0.01M646.2,375.6h0.01M638.8,274.0h0.01M651.9,374.2h0.01M657.5,359.5h0.01M646.3,380.0h0.01M643.9,347.6h0.01M651.7,345.1h0.01M656.0,343.4h0.01M641.1,336.0h0.01M643.8,356.7h0.01M652.4,375.5h0.01M638.0,341.4h0.01M656.6,380.1h0.01M644.6,361.5h0.01M657.0,354.3h0.01M647.9,357.7h0.01M641.0,367.6h0.01M637.5,378.7h0.01M639.7,379.1h0.01M643.2,363.0h0.01M655.2,376.3h0.01M656.1,333.5h0.01M652.1,371.5h0.01M644.4,339.2h0.01M652.9,339.6h0.01M654.6,365.8h0.01M645.8,380.4h0.01M639.0,370.5h0.01M648.3,330.2h0.01M642.3,329.3h0.01M641.5,372.5h0.01M646.4,371.5h0.01M638.8,338.6h0.01M658.6,368.2h0.01M643.7,360.4h0.01M658.6,381.3h0.01M654.7,379.0h0.01M637.3,364.6h0.01M658.6,370.7h0.01M656.4,376.1h0.01M649.6,340.4h0.01M658.2,376.5h0.01M648.5,368.0h0.01M637.6,336.2h0.01M640.6,361.1h0.01M644.5,368.0h0.01M657.6,362.1h0.01M656.9,362.5h0.01M639.8,369.4h0.01M645.4,379.2h0.01M639.7,366.2h0.01M642.5,358.3h0.01M645.5,373.3h0.01M646.9,373.2h0.01M640.6,369.9h0.01M652.8,372.5h0.01M642.8,374.0h0.01M658.4,377.3h0.01M648.6,268.0h0.01M647.3,328.9h0.01M655.4,382.9h0.01M645.3,341.0h0.01M643.2,380.7h0.01M639.9,355.0h0.01M644.1,359.3h0.01M642.6,343.0h0.01M654.6,307.3h0.01M645.5,373.1h0.01M654.0,372.3h0.01M643.6,325.8h0.01M638.7,356.2h0.01M644.3,380.5h0.01M646.4,367.2h0.01M658.8,369.4h0.01M641.8,377.9h0.01M642.1,315.1h0.01M640.7,378.4h0.01M643.1,328.1h0.01M660.0,376.0h0.01M659.4,299.5h0.01M642.5,377.0h0.01M638.2,370.8h0.01M648.7,362.7h0.01M651.0,308.0h0.01M639.7,354.6h0.01M647.0,363.0h0.01M655.4,364.5h0.01M637.0,379.4h0.01M654.2,379.0h0.01M653.4,334.1h0.01M655.9,357.2h0.01M648.7,363.4h0.01M648.1,344.6h0.01M649.4,372.6h0.01M640.3,376.0h0.01M649.3,376.4h0.01M642.7,369.7h0.01M644.7,357.2h0.01M638.1,375.0h0.01M640.8,374.5h0.01M638.3,358.9h0.01M650.0,375.1h0.01M642.7,324.2h0.01M650.3,320.4h0.01M649.1,375.8h0.01M642.6,372.8h0.01M640.1,317.5h0.01M651.3,350.9h0.01M653.2,374.4h0.01M653.6,356.3h0.01M649.2,305.8h0.01M650.9,373.5h0.01M637.6,365.9h0.01M644.4,313.7h0.01M656.2,345.4h0.01M646.1,348.8h0.01M639.5,349.0h0.01M647.1,374.9h0.01M657.0,366.6h0.01M639.4,374.6h0.01M639.7,371.6h0.01M649.0,331.3h0.01M657.9,341.5h0.01M646.4,338.1h0.01M643.0,305.6h0.01M655.4,316.9h0.01M639.3,379.8h0.01M644.1,379.8h0.01M651.4,348.2h0.01M657.4,358.5h0.01M657.7,374.1h0.01M644.8,350.6h0.01M643.4,359.2h0.01M645.7,342.3h0.01M639.9,381.4h0.01M643.5,369.5h0.01M655.4,337.1h0.01M660.5,336.1h0.01M643.5,361.7h0.01M638.7,360.0h0.01M654.7,377.5h0.01M660.2,375.5h0.01M656.1,375.2h0.01M646.9,365.0h0.01M654.9,374.6h0.01M655.3,366.1h0.01M654.9,382.1h0.01M648.8,380.0h0.01M661.0,381.7h0.01M655.7,367.8h0.01M642.6,378.5h0.01M647.3,290.8h0.01M639.1,335.1h0.01M646.0,377.2h0.01M656.6,377.7h0.01M648.7,363.5h0.01M649.6,364.9h0.01M655.7,364.7h0.01M639.1,369.1h0.01M645.5,283.2h0.01M648.6,367.3h0.01M648.9,362.7h0.01M653.4,333.7h0.01M659.5,373.5h0.01M656.2,367.3h0.01M650.1,363.1h0.01M653.4,372.9h0.01M649.9,378.4h0.01M660.7,362.5h0.01M651.3,366.5h0.01M651.3,371.2h0.01M646.5,361.9h0.01M647.1,368.3h0.01M655.3,379.9h0.01M645.9,364.5h0.01M658.7,378.9h0.01M654.5,377.7h0.01M659.9,364.6h0.01M654.0,369.4h0.01M650.7,374.9h0.01M645.8,364.9h0.01M637.4,350.8h0.01M652.9,370.1h0.01M655.0,377.0h0.01M654.4,355.3h0.01M655.2,376.7h0.01M637.9,359.9h0.01M653.4,383.4h0.01M643.7,331.5h0.01M646.3,363.0h0.01M657.8,332.8h0.01M646.7,344.5h0.01M648.2,353.9h0.01M638.2,372.5h0.01M641.4,360.1h0.01M642.0,368.0h0.01M642.2,350.0h0.01M649.5,354.9h0.01M638.1,371.3h0.01M639.1,374.0h0.01M639.1,336.7h0.01M654.6,367.2h0.01M660.3,369.8h0.01M655.0,366.9h0.01M649.4,377.8h0.01M640.1,378.7h0.01M655.8,347.0h0.01M640.1,369.3h0.01M638.8,353.6h0.01M649.3,380.5h0.01M657.7,330.8h0.01M644.5,374.1h0.01M657.7,371.3h0.01M645.0,358.4h0.01M660.2,354.5h0.01M654.7,349.0h0.01M657.8,355.2h0.01M660.6,343.3h0.01M656.6,363.3h0.01M641.7,327.5h0.01M649.4,381.5h0.01M650.1,374.0h0.01M654.3,370.0h0.01M642.5,379.6h0.01M650.8,346.7h0.01M643.8,280.2h0.01M641.4,372.2h0.01M647.8,352.2h0.01M656.3,345.3h0.01M650.3,375.5h0.01M645.5,377.3h0.01M642.4,381.0h0.01M645.6,364.1h0.01M646.6,352.3h0.01M643.5,379.2h0.01M644.5,300.0h0.01M642.5,357.7h0.01M644.1,350.8h0.01M653.2,335.0h0.01M652.0,379.1h0.01M652.0,347.4h0.01M659.2,344.3h0.01M653.0,374.1h0.01M640.1,351.9h0.01M646.7,370.9h0.01M649.6,328.4h0.01M654.9,372.2h0.01M649.7,325.6h0.01M639.2,373.8h0.01M648.4,379.2h0.01M652.7,360.0h0.01M655.8,344.4h0.01M647.7,306.2h0.01M642.1,370.9h0.01M637.8,350.4h0.01M649.1,367.9h0.01" stroke="#d03a2a" stroke-width="1.2" stroke-linecap="round" opacity="0.85" fill="none"/>
<path d="M654.1,356.4h0.01M657.2,370.7h0.01M641.4,360.7h0.01M661.0,370.9h0.01M641.7,378.9h0.01M653.1,341.5h0.01M639.2,315.0h0.01M655.2,297.8h0.01M640.6,371.4h0.01M654.0,359.7h0.01M654.4,333.6h0.01M655.4,362.8h0.01M647.6,335.1h0.01M657.8,345.0h0.01M660.7,370.0h0.01M639.8,364.5h0.01M649.4,331.2h0.01M660.0,374.9h0.01M654.7,375.8h0.01M647.7,366.0h0.01M644.3,369.4h0.01M659.9,288.6h0.01M639.0,372.1h0.01M655.3,371.7h0.01M657.2,345.8h0.01M640.8,374.3h0.01M644.8,350.1h0.01M644.3,353.6h0.01M650.0,347.3h0.01M645.8,321.5h0.01M658.4,316.9h0.01M659.2,336.9h0.01M644.6,295.3h0.01M658.5,357.7h0.01M638.7,311.9h0.01M639.3,352.7h0.01M653.0,335.6h0.01M656.2,352.1h0.01M656.7,354.5h0.01M660.8,370.0h0.01M657.6,362.7h0.01M643.4,335.5h0.01M654.8,359.4h0.01M659.2,362.1h0.01M639.2,299.0h0.01M648.9,369.1h0.01M640.7,362.3h0.01M640.4,276.3h0.01M648.5,378.1h0.01M653.1,309.5h0.01M660.4,357.3h0.01M640.2,348.9h0.01M649.1,371.3h0.01M660.9,379.7h0.01M655.4,366.2h0.01M649.8,365.7h0.01M642.8,372.6h0.01M652.1,293.2h0.01M643.3,372.9h0.01M652.5,382.8h0.01M652.6,378.4h0.01M646.4,378.0h0.01M656.1,376.6h0.01M646.7,377.3h0.01M648.3,378.3h0.01M657.0,335.7h0.01M643.0,378.3h0.01M641.5,358.1h0.01M650.8,376.4h0.01M647.4,380.5h0.01M658.0,368.5h0.01M643.0,371.3h0.01M645.9,294.3h0.01M638.4,378.7h0.01M647.8,331.0h0.01M644.5,368.1h0.01M647.8,361.6h0.01M655.3,373.2h0.01M637.9,355.2h0.01M660.7,372.2h0.01M654.1,360.2h0.01M656.5,331.1h0.01M649.9,315.1h0.01M650.8,372.2h0.01M646.8,370.3h0.01M646.5,360.7h0.01M642.3,359.5h0.01M644.3,371.2h0.01M644.1,353.8h0.01M645.1,350.8h0.01M658.8,362.5h0.01M656.2,326.8h0.01M652.4,377.8h0.01M637.4,317.0h0.01M643.3,379.5h0.01M650.0,308.3h0.01M653.6,376.3h0.01M647.1,378.5h0.01M652.2,366.6h0.01M658.7,374.9h0.01M643.4,375.2h0.01M646.2,362.2h0.01M655.2,347.6h0.01M644.6,307.6h0.01M654.3,354.2h0.01M646.5,374.2h0.01M637.5,371.4h0.01M648.1,302.4h0.01M638.6,371.4h0.01M655.8,322.9h0.01M657.3,377.4h0.01M649.7,376.4h0.01M658.6,371.4h0.01M642.1,346.3h0.01M647.7,341.0h0.01M641.2,371.9h0.01M638.2,338.0h0.01M656.8,366.6h0.01M638.3,302.8h0.01M659.4,376.5h0.01M650.4,366.0h0.01M653.8,306.5h0.01M638.2,347.9h0.01M658.8,359.1h0.01M656.1,361.1h0.01M639.5,298.0h0.01M641.4,343.0h0.01M640.4,335.4h0.01M649.1,376.6h0.01M638.9,329.1h0.01M656.2,367.1h0.01M648.9,367.2h0.01M653.9,377.3h0.01M643.1,374.9h0.01M652.7,373.9h0.01M647.9,343.3h0.01M652.6,374.4h0.01M646.9,371.4h0.01M660.8,377.8h0.01M657.3,369.7h0.01M657.0,349.5h0.01M645.2,376.7h0.01M641.6,370.2h0.01M640.7,357.8h0.01M640.2,358.0h0.01M660.2,361.3h0.01M643.8,324.4h0.01M657.9,380.5h0.01M642.6,369.7h0.01M651.9,363.8h0.01M643.0,373.1h0.01M644.4,361.2h0.01M654.9,374.9h0.01M651.6,361.7h0.01M659.7,381.3h0.01M642.7,365.2h0.01M643.5,369.4h0.01M638.5,377.8h0.01M642.1,338.8h0.01M660.5,380.1h0.01M650.5,336.3h0.01M648.4,371.3h0.01M645.2,382.3h0.01M655.2,360.8h0.01M653.5,375.2h0.01M640.7,345.8h0.01M638.1,329.3h0.01M641.2,330.1h0.01M656.6,370.8h0.01M654.6,321.4h0.01M642.4,325.2h0.01M642.6,370.4h0.01M644.4,369.6h0.01M653.3,370.4h0.01M655.0,331.3h0.01M642.7,362.5h0.01M644.9,362.6h0.01M642.7,330.0h0.01M659.7,332.6h0.01M650.2,340.2h0.01M659.6,368.3h0.01M642.8,305.0h0.01M652.2,338.5h0.01M650.7,368.2h0.01M659.4,369.7h0.01M645.7,285.4h0.01M642.5,347.5h0.01M656.6,369.4h0.01M659.9,341.5h0.01M649.2,377.0h0.01M645.0,372.4h0.01M639.0,367.7h0.01M647.7,369.3h0.01M659.2,357.2h0.01M645.6,380.1h0.01M647.8,309.1h0.01M650.5,377.6h0.01M642.7,377.7h0.01M639.6,375.6h0.01M649.5,357.0h0.01M660.2,377.3h0.01M657.9,348.9h0.01M644.2,346.2h0.01M655.8,368.1h0.01M657.0,367.7h0.01M651.0,348.7h0.01M645.6,366.4h0.01M641.7,297.6h0.01M653.9,374.9h0.01M653.5,381.1h0.01M642.1,350.0h0.01M640.4,294.1h0.01M639.7,316.6h0.01M656.9,370.1h0.01M658.3,290.4h0.01M649.4,380.3h0.01M651.7,364.0h0.01M654.0,351.3h0.01M640.8,370.6h0.01M649.5,323.9h0.01M647.8,373.0h0.01M657.9,313.7h0.01M640.9,372.8h0.01M657.3,320.6h0.01M640.4,365.8h0.01M651.7,380.7h0.01M658.4,369.3h0.01M638.8,374.4h0.01M648.6,364.9h0.01M637.1,377.6h0.01M649.2,381.8h0.01M648.7,323.7h0.01M660.0,379.9h0.01M648.7,367.4h0.01M658.8,380.9h0.01M654.5,374.2h0.01M657.2,351.2h0.01M645.4,357.1h0.01M639.3,364.0h0.01M652.3,368.4h0.01M639.7,367.3h0.01M652.0,381.8h0.01M641.3,323.9h0.01M651.5,373.3h0.01M655.4,372.9h0.01M660.1,381.0h0.01M641.8,374.7h0.01M641.2,376.8h0.01M647.1,357.9h0.01M660.4,372.9h0.01M643.1,342.0h0.01M648.4,349.5h0.01M646.2,371.0h0.01M638.5,371.7h0.01M649.9,370.6h0.01M644.4,372.6h0.01M648.3,365.0h0.01M654.7,374.8h0.01M653.0,358.8h0.01M642.9,352.7h0.01M652.5,348.5h0.01M649.9,342.5h0.01M655.4,362.6h0.01M637.1,332.6h0.01M643.7,354.5h0.01M653.2,372.4h0.01M650.4,357.3h0.01M649.1,351.1h0.01M649.7,381.8h0.01M651.8,318.0h0.01M654.7,371.3h0.01M657.0,355.7h0.01M655.7,366.0h0.01M658.8,377.8h0.01M650.8,324.9h0.01M641.1,357.7h0.01M645.9,325.0h0.01M657.7,306.8h0.01M655.5,370.8h0.01M651.9,375.6h0.01M640.1,335.6h0.01M640.8,374.0h0.01M652.7,370.3h0.01M647.1,365.4h0.01M641.5,311.5h0.01M660.3,342.3h0.01M642.6,377.4h0.01M659.2,369.2h0.01M651.9,377.7h0.01M659.9,371.4h0.01M655.6,313.6h0.01M641.8,348.8h0.01M642.5,366.3h0.01M657.7,361.5h0.01M647.4,351.1h0.01M649.1,340.5h0.01M654.9,371.1h0.01M651.5,348.3h0.01M654.3,348.7h0.01M649.5,335.4h0.01M643.6,353.6h0.01M654.3,363.8h0.01M640.0,371.6h0.01M654.4,341.8h0.01M656.1,332.7h0.01M640.4,376.7h0.01M637.1,353.7h0.01M658.9,357.4h0.01M641.5,378.3h0.01M649.8,353.5h0.01M644.0,365.0h0.01M640.3,319.3h0.01M643.2,341.6h0.01M638.8,364.3h0.01M657.3,382.9h0.01M655.5,381.6h0.01M655.8,381.1h0.01M640.5,348.0h0.01M644.8,381.4h0.01M639.3,364.1h0.01M657.4,359.8h0.01M660.4,354.1h0.01M659.8,380.8h0.01M657.2,371.0h0.01M651.7,378.9h0.01M648.9,369.7h0.01M639.8,369.2h0.01M637.8,347.3h0.01M651.9,381.1h0.01M660.1,336.0h0.01M660.5,368.1h0.01M647.0,372.5h0.01M649.5,346.2h0.01M658.1,372.3h0.01M643.8,355.1h0.01M654.6,322.5h0.01M651.4,362.4h0.01M647.4,356.7h0.01M646.4,332.2h0.01M640.8,341.5h0.01M640.5,352.9h0.01M644.1,371.9h0.01M660.7,342.3h0.01M656.7,360.6h0.01M637.2,283.6h0.01M655.2,364.2h0.01M640.4,353.8h0.01M650.8,344.5h0.01M659.1,297.1h0.01M658.7,353.0h0.01M658.3,362.2h0.01M660.8,371.5h0.01M652.2,347.4h0.01M637.8,372.0h0.01M643.1,342.5h0.01M653.1,355.3h0.01M651.3,368.3h0.01M658.9,365.7h0.01M641.1,373.2h0.01M658.3,346.7h0.01M650.9,368.5h0.01M651.2,357.7h0.01M639.9,285.5h0.01M645.5,352.9h0.01M649.3,380.0h0.01M655.1,378.4h0.01M653.3,375.6h0.01M652.4,376.7h0.01M654.1,368.0h0.01M645.5,376.0h0.01M645.0,372.7h0.01M660.5,294.3h0.01M653.1,314.9h0.01M650.4,367.4h0.01M660.2,356.0h0.01M657.8,305.4h0.01M654.3,316.0h0.01M660.5,373.6h0.01M646.2,300.3h0.01M659.2,345.3h0.01M650.8,297.4h0.01M647.2,379.6h0.01M646.7,378.5h0.01M638.2,287.1h0.01M658.3,374.0h0.01M660.4,378.2h0.01M646.1,350.8h0.01M659.7,351.5h0.01M640.1,364.3h0.01M648.1,377.8h0.01M660.8,375.6h0.01M652.2,365.2h0.01M640.8,334.0h0.01M652.2,340.1h0.01M637.6,365.7h0.01M654.3,344.5h0.01M651.1,350.8h0.01M652.5,312.1h0.01M653.2,371.3h0.01M639.3,379.1h0.01M658.2,357.4h0.01M655.3,343.7h0.01M658.4,377.1h0.01M642.5,353.1h0.01M642.5,359.4h0.01M654.3,369.9h0.01M659.1,375.9h0.01M650.7,361.4h0.01M642.8,339.3h0.01M647.6,345.0h0.01M642.8,365.7h0.01M648.6,358.9h0.01M660.0,371.0h0.01M653.3,332.7h0.01M641.9,337.8h0.01M659.0,378.9h0.01M658.1,358.2h0.01M646.7,369.0h0.01M637.0,365.0h0.01M653.0,346.6h0.01M644.8,333.0h0.01M640.1,375.6h0.01M658.8,365.8h0.01M646.6,361.9h0.01M640.9,377.6h0.01M643.8,335.1h0.01M660.9,334.9h0.01M645.4,375.5h0.01M648.3,332.0h0.01M643.0,331.1h0.01M639.0,374.1h0.01M640.2,301.4h0.01M638.4,376.3h0.01M647.9,379.5h0.01M647.3,345.4h0.01M653.9,292.1h0.01M657.0,347.2h0.01M658.0,383.2h0.01M640.4,311.4h0.01M650.4,363.2h0.01M640.4,370.2h0.01M644.1,354.8h0.01M646.3,382.1h0.01M646.4,365.0h0.01M657.2,372.8h0.01M647.2,370.5h0.01M640.8,306.0h0.01M651.4,339.9h0.01M643.2,334.4h0.01M658.7,343.2h0.01M639.6,370.9h0.01M640.7,347.0h0.01M638.6,267.4h0.01M644.1,372.2h0.01M655.8,373.0h0.01M638.9,364.4h0.01M651.6,374.2h0.01M658.5,363.2h0.01M642.6,337.6h0.01M654.9,375.8h0.01M654.4,378.7h0.01M660.1,379.7h0.01M657.5,350.3h0.01M652.1,366.3h0.01M647.2,374.4h0.01M645.8,374.8h0.01M639.9,318.5h0.01M638.3,375.6h0.01M652.5,372.3h0.01M643.8,372.9h0.01M640.8,373.1h0.01M648.5,324.8h0.01M640.5,357.4h0.01M652.3,295.4h0.01M659.8,372.3h0.01M645.9,339.6h0.01M637.8,365.7h0.01M641.0,368.9h0.01M644.5,357.2h0.01M658.3,335.9h0.01M659.7,337.5h0.01M651.5,282.3h0.01M646.5,372.1h0.01M639.3,378.4h0.01M657.1,360.2h0.01M637.6,377.8h0.01M643.2,371.6h0.01M654.6,340.6h0.01M653.6,381.5h0.01M641.5,335.9h0.01M660.8,378.2h0.01M652.7,359.5h0.01M653.5,357.7h0.01M642.6,373.6h0.01M656.1,377.6h0.01M637.6,321.9h0.01M651.4,374.3h0.01M637.5,365.2h0.01M655.9,381.9h0.01M651.2,347.3h0.01M650.6,361.4h0.01M645.9,322.8h0.01M655.8,375.4h0.01M637.8,366.9h0.01M640.7,375.1h0.01M637.3,381.5h0.01M652.1,378.5h0.01M638.6,366.5h0.01M637.2,362.4h0.01M657.5,344.5h0.01M644.6,363.5h0.01M645.7,363.2h0.01M656.9,366.5h0.01M645.9,310.4h0.01M657.2,361.0h0.01M660.7,344.7h0.01M639.6,366.7h0.01M642.7,380.8h0.01M637.3,378.4h0.01M643.3,380.8h0.01M651.2,365.5h0.01M660.5,371.3h0.01M656.1,343.4h0.01M654.3,365.2h0.01M640.5,368.4h0.01M659.3,373.5h0.01M647.4,370.4h0.01M655.6,374.5h0.01M641.7,370.6h0.01M660.4,357.1h0.01M646.3,378.7h0.01M644.0,378.2h0.01M657.7,352.3h0.01M653.0,374.1h0.01M646.6,375.5h0.01M647.8,378.0h0.01M654.7,376.7h0.01M646.1,371.9h0.01M649.7,332.5h0.01M648.9,381.2h0.01M646.6,383.4h0.01M645.4,377.7h0.01M643.2,337.8h0.01M656.0,364.3h0.01M652.8,372.0h0.01M641.2,288.7h0.01M641.0,381.7h0.01M646.4,292.3h0.01M651.3,368.7h0.01M649.1,350.9h0.01M652.5,373.3h0.01M653.8,342.7h0.01M644.1,369.7h0.01M638.6,368.1h0.01M652.8,276.0h0.01M649.9,368.8h0.01M645.1,321.5h0.01M658.3,364.6h0.01M640.5,375.4h0.01M639.8,381.1h0.01M652.1,381.8h0.01M646.2,362.5h0.01M652.7,343.8h0.01M639.2,369.3h0.01M648.6,330.9h0.01M651.8,334.5h0.01M647.4,370.9h0.01M640.5,357.4h0.01M638.9,373.1h0.01M644.5,357.8h0.01M644.0,358.2h0.01M658.2,306.6h0.01M638.6,362.2h0.01M655.0,373.8h0.01M659.9,351.3h0.01M649.5,344.2h0.01M641.0,361.9h0.01M651.7,369.6h0.01M659.2,349.2h0.01M646.9,336.3h0.01M654.5,363.7h0.01M642.0,321.5h0.01M643.2,374.0h0.01M645.5,363.2h0.01M651.6,375.9h0.01M659.6,310.8h0.01M640.9,372.6h0.01M638.0,360.4h0.01M643.1,324.4h0.01M652.5,361.3h0.01M653.4,355.4h0.01M649.9,353.2h0.01M654.3,357.5h0.01M648.6,309.6h0.01M640.8,362.7h0.01M660.0,301.9h0.01M645.1,354.3h0.01M637.2,379.3h0.01M641.1,375.5h0.01M643.2,281.0h0.01M654.2,365.8h0.01M644.2,375.4h0.01M641.2,375.0h0.01M653.5,378.3h0.01M652.8,369.7h0.01M652.8,345.4h0.01M643.4,374.0h0.01M658.8,321.3h0.01M652.4,334.3h0.01M648.3,318.8h0.01M659.0,365.7h0.01M642.7,342.1h0.01M644.2,351.1h0.01M650.9,313.4h0.01M650.9,319.2h0.01M650.4,343.9h0.01M639.3,378.6h0.01M655.1,355.6h0.01M660.5,364.1h0.01M645.6,379.4h0.01M656.9,362.1h0.01M640.0,362.9h0.01M639.6,363.2h0.01M651.2,380.9h0.01M659.4,337.9h0.01" stroke="#d03a2a" stroke-width="1.2" stroke-linecap="round" opacity="0.4" fill="none"/>
<rect x="550.9" y="334.10" width="12.1" height="40.32" fill="#8891e0" fill-opacity="0.85" stroke="#666" stroke-width="0.8"/>
<line x1="550.90" y1="360.47" x2="563.00" y2="360.47" stroke="#555" stroke-width="1.0"/>
<rect x="643.2" y="342.31" width="11.8" height="30.00" fill="#d86e62" fill-opacity="0.8" stroke="#6a5550" stroke-width="0.8"/>
<line x1="643.20" y1="362.11" x2="655.00" y2="362.11" stroke="#555" stroke-width="1.0"/>
<path d="M551.0,347.2h0.01M552.2,342.9h0.01M555.6,366.3h0.01M559.1,357.2h0.01M552.6,361.5h0.01M552.2,364.1h0.01M553.7,353.4h0.01M560.0,362.3h0.01M552.7,338.7h0.01M559.8,371.8h0.01M558.8,355.7h0.01M552.5,368.2h0.01M557.3,350.9h0.01M556.3,371.8h0.01M555.9,354.4h0.01M562.9,352.3h0.01M552.0,362.7h0.01M551.1,373.8h0.01M562.2,340.5h0.01M555.7,363.8h0.01M553.3,336.0h0.01M554.9,372.9h0.01M555.3,373.3h0.01M562.4,337.6h0.01M553.4,367.4h0.01M553.5,369.9h0.01M557.9,370.0h0.01M557.5,352.2h0.01M562.3,354.5h0.01M561.0,363.1h0.01M555.2,373.0h0.01M553.3,363.3h0.01M560.9,373.3h0.01M562.8,360.0h0.01M551.3,354.5h0.01M559.7,348.8h0.01M561.3,369.2h0.01M558.7,336.9h0.01M553.5,352.8h0.01M560.5,353.0h0.01M559.7,364.9h0.01M553.2,340.1h0.01M558.6,358.1h0.01M553.5,354.0h0.01M551.4,374.2h0.01M554.9,372.1h0.01M554.9,363.4h0.01M555.7,368.5h0.01M558.7,372.6h0.01M560.9,371.1h0.01M562.4,367.5h0.01M562.6,373.5h0.01M562.8,365.6h0.01M560.4,367.5h0.01M554.6,347.9h0.01M553.0,368.5h0.01M558.4,353.2h0.01M557.4,368.1h0.01M559.0,371.8h0.01M552.0,364.5h0.01M553.2,369.5h0.01M562.0,365.8h0.01M558.1,356.2h0.01M559.2,365.6h0.01M552.0,352.2h0.01M555.7,364.8h0.01M561.8,362.6h0.01M558.7,344.0h0.01M562.8,370.3h0.01M553.3,356.8h0.01M556.4,341.1h0.01M560.5,357.8h0.01M556.2,361.5h0.01M560.4,348.1h0.01M557.6,368.4h0.01M552.3,351.4h0.01M552.1,364.7h0.01M562.7,362.5h0.01M552.3,371.6h0.01M553.2,353.7h0.01M554.9,360.3h0.01M559.5,373.6h0.01M561.1,362.8h0.01M556.6,371.5h0.01M556.9,368.2h0.01M560.4,351.4h0.01M554.2,373.1h0.01M555.4,370.5h0.01M558.3,361.0h0.01M558.5,367.3h0.01M551.4,368.1h0.01M552.2,355.6h0.01M552.6,336.6h0.01M559.6,365.2h0.01M559.2,371.0h0.01M562.6,367.4h0.01M560.1,359.6h0.01M554.0,367.2h0.01M560.1,363.1h0.01M562.7,365.7h0.01M555.1,374.1h0.01M551.0,349.8h0.01M555.4,340.8h0.01M554.3,370.5h0.01" stroke="#3a50d8" stroke-width="1.1" stroke-linecap="round" opacity="0.35" fill="none"/>
<path d="M643.9,356.4h0.01M645.6,370.7h0.01M646.6,367.6h0.01M653.8,371.3h0.01M649.0,359.7h0.01M651.6,370.1h0.01M644.2,366.2h0.01M649.1,370.0h0.01M653.1,364.5h0.01M649.3,343.5h0.01M654.3,358.2h0.01M653.6,366.6h0.01M647.5,371.7h0.01M643.0,348.5h0.01M652.1,353.6h0.01M644.5,357.7h0.01M643.1,352.7h0.01M651.8,352.1h0.01M653.1,370.0h0.01M653.0,362.7h0.01M654.4,359.4h0.01M645.4,359.1h0.01M644.0,369.1h0.01M644.4,362.3h0.01M654.7,357.3h0.01M644.3,348.9h0.01M644.9,371.3h0.01M643.2,365.3h0.01M643.6,365.7h0.01M643.5,371.2h0.01M647.2,353.8h0.01M645.0,364.6h0.01M646.7,369.3h0.01M654.1,354.1h0.01M645.0,369.0h0.01M652.8,361.6h0.01M651.9,353.3h0.01M649.8,360.2h0.01M649.9,356.9h0.01M652.2,356.8h0.01M650.0,360.7h0.01M645.8,363.2h0.01M647.0,343.0h0.01M645.9,350.8h0.01M647.8,344.5h0.01M654.8,358.0h0.01M648.1,366.6h0.01M643.8,364.3h0.01M648.7,366.1h0.01M652.8,357.5h0.01M648.3,354.2h0.01M651.4,371.4h0.01M644.1,356.7h0.01M643.7,371.4h0.01M650.9,356.9h0.01M643.6,356.9h0.01M646.6,343.1h0.01M647.6,347.4h0.01M645.3,359.1h0.01M643.4,361.1h0.01M643.1,343.0h0.01M654.4,367.1h0.01M651.3,352.2h0.01M654.4,365.8h0.01M648.9,369.7h0.01M654.5,355.1h0.01M653.4,349.9h0.01M650.4,354.6h0.01M649.3,361.3h0.01M649.1,356.6h0.01M645.7,354.0h0.01M647.5,361.2h0.01M651.7,361.7h0.01M645.3,365.2h0.01M653.2,360.9h0.01M649.1,371.3h0.01M650.3,370.5h0.01M652.9,370.8h0.01M650.8,369.8h0.01M644.7,369.6h0.01M646.0,368.7h0.01M643.0,362.6h0.01M643.3,356.0h0.01M654.4,366.9h0.01M650.1,366.6h0.01M654.6,362.3h0.01M652.4,347.5h0.01M646.8,360.6h0.01M654.6,369.3h0.01M654.1,369.0h0.01M648.5,365.8h0.01M644.0,363.9h0.01M646.8,348.9h0.01M645.0,346.2h0.01M647.4,367.7h0.01M644.0,348.7h0.01M651.6,366.4h0.01M654.8,350.0h0.01M645.5,371.1h0.01M652.4,348.5h0.01M650.0,364.0h0.01M648.8,367.4h0.01M653.9,370.0h0.01M647.5,365.8h0.01M652.9,345.8h0.01M643.4,364.9h0.01M654.6,357.5h0.01M645.2,367.4h0.01M643.0,364.2h0.01M653.6,357.0h0.01M651.7,346.1h0.01M651.1,370.0h0.01M652.2,367.3h0.01M647.5,370.1h0.01M644.4,362.1h0.01M646.8,359.9h0.01M654.4,349.5h0.01M654.8,371.7h0.01M645.8,343.8h0.01M648.3,365.0h0.01M648.4,348.2h0.01M653.9,364.2h0.01M643.1,342.5h0.01M653.0,365.0h0.01M646.0,371.3h0.01M649.6,351.1h0.01M644.5,355.1h0.01M644.0,371.3h0.01M653.6,366.0h0.01M649.0,345.8h0.01M654.7,357.7h0.01M653.4,342.7h0.01M652.0,351.2h0.01M643.9,370.3h0.01M650.1,365.4h0.01M654.9,352.9h0.01M649.0,365.2h0.01M643.8,369.2h0.01M645.2,366.2h0.01M654.9,348.8h0.01M654.7,366.3h0.01M646.0,362.8h0.01M646.8,350.8h0.01M651.6,348.3h0.01M649.1,348.7h0.01M645.2,353.6h0.01M654.8,363.8h0.01M650.4,371.6h0.01M647.4,346.7h0.01M643.3,371.0h0.01M649.1,364.6h0.01M652.0,353.5h0.01M645.1,365.0h0.01M644.0,342.7h0.01M651.7,363.8h0.01M654.0,361.9h0.01M647.5,360.8h0.01M648.7,371.0h0.01M650.6,365.5h0.01M649.2,349.7h0.01M644.5,347.3h0.01M646.3,368.3h0.01M645.5,368.1h0.01M645.4,346.2h0.01M644.1,372.3h0.01M647.7,355.1h0.01M645.6,362.4h0.01M653.2,368.6h0.01M646.9,352.9h0.01M654.6,360.6h0.01M652.7,365.4h0.01M646.2,371.6h0.01M644.8,344.5h0.01M649.9,367.7h0.01M648.7,356.7h0.01M649.4,371.5h0.01M644.5,347.4h0.01M649.4,355.0h0.01M652.1,355.3h0.01M648.3,368.3h0.01M646.1,365.7h0.01M654.1,368.5h0.01M646.6,357.7h0.01M654.9,365.5h0.01M651.3,363.0h0.01M643.0,368.0h0.01M648.4,367.4h0.01M644.8,356.0h0.01M652.4,343.4h0.01M648.1,345.3h0.01M644.0,354.3h0.01M654.4,367.6h0.01M652.6,351.5h0.01M650.3,364.3h0.01M649.8,365.2h0.01M643.9,365.7h0.01M654.8,370.5h0.01M646.6,371.3h0.01M649.3,357.4h0.01M648.9,368.2h0.01M648.7,353.1h0.01M643.2,369.9h0.01M653.7,370.7h0.01M648.9,345.0h0.01M647.7,368.0h0.01M653.3,371.0h0.01M653.3,368.0h0.01M651.6,362.5h0.01M653.9,369.4h0.01M647.2,365.0h0.01M644.3,346.6h0.01M647.2,365.8h0.01M650.2,361.9h0.01M652.4,359.3h0.01M651.8,345.4h0.01M650.6,372.3h0.01M650.2,363.2h0.01M651.0,367.2h0.01M649.9,369.4h0.01M643.2,370.5h0.01M649.6,370.8h0.01M646.3,362.7h0.01M643.9,354.6h0.01M650.3,363.0h0.01M653.1,364.4h0.01M646.4,357.2h0.01M651.0,344.6h0.01M650.5,366.3h0.01M651.2,357.2h0.01M653.5,357.4h0.01M651.3,350.9h0.01M644.0,368.9h0.01M650.4,357.2h0.01M647.2,372.1h0.01M648.0,348.8h0.01M651.1,349.0h0.01M645.1,366.6h0.01M650.5,359.5h0.01M654.3,348.2h0.01M643.9,358.5h0.01M653.2,350.6h0.01M651.5,359.2h0.01M647.9,366.9h0.01M652.2,361.7h0.01M644.0,360.0h0.01M644.9,344.5h0.01M655.0,363.2h0.01M650.5,366.5h0.01M645.0,361.0h0.01M644.6,366.7h0.01M648.4,365.5h0.01M649.6,343.4h0.01M654.9,363.5h0.01M645.2,364.9h0.01M650.6,370.4h0.01M648.3,370.6h0.01M649.7,357.1h0.01M654.3,352.3h0.01M644.4,363.1h0.01M653.0,371.9h0.01M651.8,371.2h0.01M646.2,368.3h0.01M644.4,364.3h0.01M652.0,364.6h0.01M653.2,368.7h0.01M647.1,350.9h0.01M644.7,370.1h0.01M649.7,369.7h0.01M651.0,368.1h0.01M647.3,368.8h0.01M647.9,363.0h0.01M644.2,353.9h0.01M644.7,343.8h0.01M645.7,369.3h0.01M652.1,350.0h0.01M644.5,370.9h0.01M645.4,357.4h0.01M648.6,367.2h0.01M645.5,369.8h0.01M645.9,362.2h0.01M651.8,347.0h0.01M645.8,369.3h0.01M649.7,353.6h0.01M644.0,349.2h0.01M649.2,371.3h0.01M651.4,354.5h0.01M648.4,349.0h0.01M645.3,343.3h0.01M643.4,360.4h0.01M646.3,355.4h0.01M647.9,353.2h0.01M644.2,346.7h0.01M648.1,372.2h0.01M649.1,354.3h0.01M643.8,365.8h0.01M651.0,352.3h0.01M654.5,357.7h0.01M651.4,350.8h0.01M648.4,344.3h0.01M653.0,351.9h0.01M654.3,370.9h0.01M654.4,343.9h0.01M654.4,364.1h0.01M652.2,344.4h0.01M654.3,362.9h0.01M652.1,363.2h0.01M646.9,367.9h0.01" stroke="#c83a2a" stroke-width="1.1" stroke-linecap="round" opacity="0.4" fill="none"/>
<line x1="556.60" y1="263.20" x2="649.20" y2="263.20" stroke="#222" stroke-width="1.2"/>
<polygon points="600.55,257.15 601.08,258.42 602.45,258.53 601.41,259.43 601.73,260.77 600.55,260.05 599.37,260.77 599.69,259.43 598.65,258.53 600.02,258.42" fill="#222"/>
<polygon points="604.85,257.15 605.38,258.42 606.75,258.53 605.71,259.43 606.03,260.77 604.85,260.05 603.67,260.77 603.99,259.43 602.95,258.53 604.32,258.42" fill="#222"/>
<text transform="translate(606.00,251.60)" font-size="8.8" text-anchor="middle" fill="#222" font-weight="normal" textLength="91.7" lengthAdjust="spacingAndGlyphs">Flagellin-related genes</text>
<text transform="translate(556.90,396.00) scale(1.0,0.9)" font-size="8.2" text-anchor="middle" fill="#222" font-weight="normal" >R</text>
<text transform="translate(649.00,396.00) scale(1.0,0.9)" font-size="8.2" text-anchor="middle" fill="#222" font-weight="normal" >NR</text>
<text transform="translate(516.00,322.00) rotate(-90) scale(1.0,0.9)" font-size="8.2" text-anchor="middle" fill="#222" font-weight="normal" >RPK</text>
<text transform="translate(1.00,9.00) scale(1.0,0.87)" font-size="13.5" text-anchor="start" fill="#000" font-weight="bold" >a</text>
<text transform="translate(349.20,8.90) scale(1.0,0.95)" font-size="13.5" text-anchor="start" fill="#000" font-weight="bold" >b</text>
<text transform="translate(0.80,249.00) scale(1.0,0.95)" font-size="13.5" text-anchor="start" fill="#000" font-weight="bold" >c</text>
<text transform="translate(508.20,249.20) scale(1.0,0.97)" font-size="13.5" text-anchor="start" fill="#000" font-weight="bold" >d</text>
</svg>
</body></html>
